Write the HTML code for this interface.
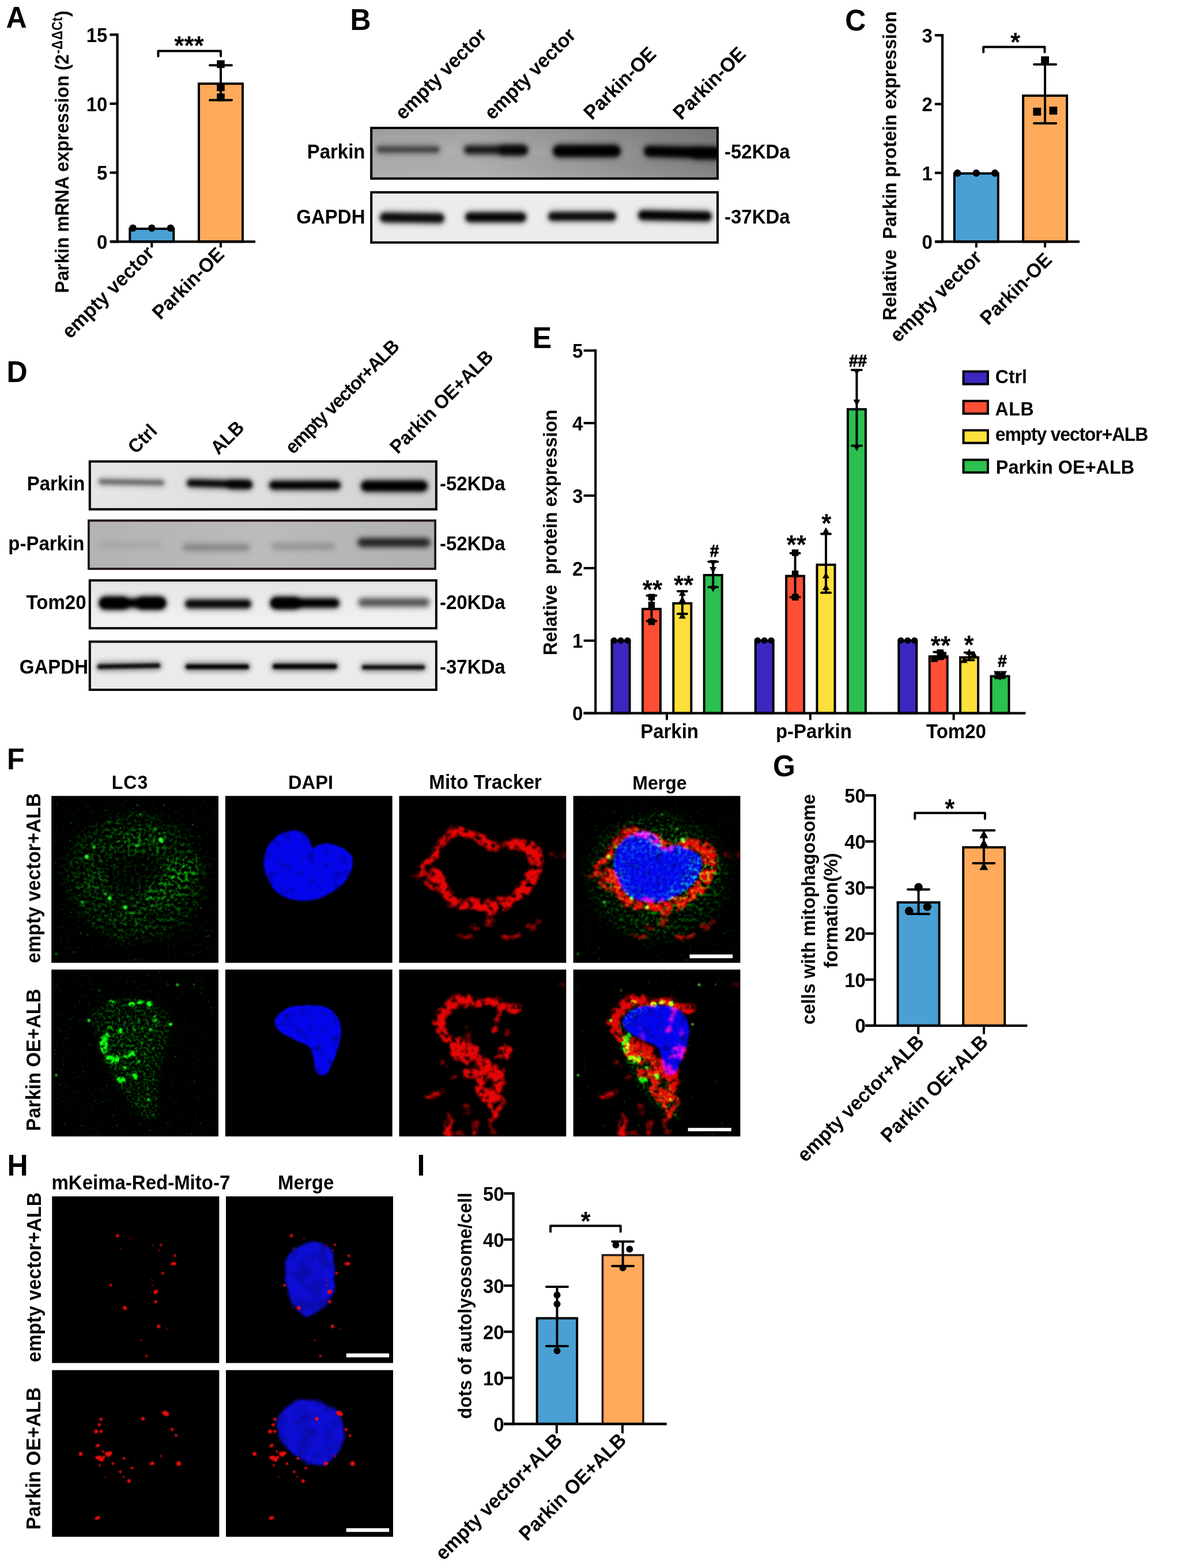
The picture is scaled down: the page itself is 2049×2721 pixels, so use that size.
<!DOCTYPE html>
<html lang="en">
<head>
<meta charset="utf-8">
<title>Figure</title>
<style>
html,body{margin:0;padding:0;background:#fff;}
body{width:2049px;height:2721px;overflow:hidden;}
svg{display:block;font-family:'Liberation Sans', sans-serif;}
</style>
</head>
<body>
<svg width="2049" height="2721" viewBox="0 0 2049 2721">
<rect x="0" y="0" width="2049" height="2721" fill="#ffffff"/>
<text transform="translate(10.5 48.3) scale(0.9615 1)" font-size="52" font-weight="bold" text-anchor="start" fill="#000">A</text>
<text transform="translate(607.5 52.2) scale(0.9615 1)" font-size="52" font-weight="bold" text-anchor="start" fill="#000">B</text>
<text transform="translate(1466.2 52.7) scale(0.9615 1)" font-size="52" font-weight="bold" text-anchor="start" fill="#000">C</text>
<text transform="translate(11.5 662.6) scale(0.9615 1)" font-size="52" font-weight="bold" text-anchor="start" fill="#000">D</text>
<text transform="translate(923.7 604.2) scale(0.9615 1)" font-size="52" font-weight="bold" text-anchor="start" fill="#000">E</text>
<text transform="translate(12 1335.4) scale(0.9615 1)" font-size="52" font-weight="bold" text-anchor="start" fill="#000">F</text>
<text transform="translate(1341 1347) scale(0.9615 1)" font-size="52" font-weight="bold" text-anchor="start" fill="#000">G</text>
<text transform="translate(12.5 2039.6) scale(0.9615 1)" font-size="52" font-weight="bold" text-anchor="start" fill="#000">H</text>
<text transform="translate(723.5 2039.5) scale(0.9615 1)" font-size="52" font-weight="bold" text-anchor="start" fill="#000">I</text>
<rect x="225.3" y="397" width="76" height="22.3" fill="#4aa0d3" stroke="#000" stroke-width="4"/>
<rect x="345" y="145.2" width="76" height="274.1" fill="#ffa95a" stroke="#000" stroke-width="4"/>
<line x1="203.6" y1="58.05" x2="203.6" y2="421.45" stroke="#000" stroke-width="4.3"/>
<line x1="190.45" y1="60.2" x2="203.6" y2="60.2" stroke="#000" stroke-width="4.3"/>
<text transform="translate(186.45 72.8) scale(0.9615 1)" font-size="34.32" font-weight="bold" text-anchor="end" fill="#000">15</text>
<line x1="190.45" y1="179.9" x2="203.6" y2="179.9" stroke="#000" stroke-width="4.3"/>
<text transform="translate(186.45 192.5) scale(0.9615 1)" font-size="34.32" font-weight="bold" text-anchor="end" fill="#000">10</text>
<line x1="190.45" y1="299.6" x2="203.6" y2="299.6" stroke="#000" stroke-width="4.3"/>
<text transform="translate(186.45 312.2) scale(0.9615 1)" font-size="34.32" font-weight="bold" text-anchor="end" fill="#000">5</text>
<line x1="190.45" y1="419.3" x2="203.6" y2="419.3" stroke="#000" stroke-width="4.3"/>
<text transform="translate(186.45 431.9) scale(0.9615 1)" font-size="34.32" font-weight="bold" text-anchor="end" fill="#000">0</text>
<line x1="192.5" y1="419.3" x2="443" y2="419.3" stroke="#000" stroke-width="4.3"/>
<line x1="263.3" y1="419.3" x2="263.3" y2="429.5" stroke="#000" stroke-width="4"/>
<line x1="383" y1="419.3" x2="383" y2="429.5" stroke="#000" stroke-width="4"/>
<circle cx="230.6" cy="395.7" r="6.3" fill="#000"/>
<circle cx="263.3" cy="395.7" r="6.3" fill="#000"/>
<circle cx="296" cy="395.7" r="6.3" fill="#000"/>
<line x1="383" y1="113.2" x2="383" y2="173.7" stroke="#000" stroke-width="4"/>
<line x1="364" y1="113.2" x2="402" y2="113.2" stroke="#000" stroke-width="4" stroke-linecap="round"/>
<line x1="364" y1="173.7" x2="402" y2="173.7" stroke="#000" stroke-width="4" stroke-linecap="round"/>
<rect x="376.25" y="104.55" width="13.5" height="13.5" fill="#000"/>
<rect x="376.25" y="144.55" width="13.5" height="13.5" fill="#000"/>
<rect x="376.25" y="162.25" width="13.5" height="13.5" fill="#000"/>
<polyline points="274.5,97.4 274.5,88.4 383,88.4 383,97.4" fill="none" stroke="#000" stroke-width="4" stroke-linejoin="round" stroke-linecap="round"/>
<text transform="translate(328 95.2) scale(0.9615 1)" font-size="45.76" font-weight="bold" text-anchor="middle" fill="#000">***</text>
<text transform="translate(119.2 94) rotate(-90) scale(0.9615 1)" font-size="32.97" font-weight="bold" text-anchor="end" fill="#000">Parkin mRNA expression (2</text>
<text transform="translate(108.3 93.2) rotate(-90) scale(0.8413 1)" font-size="25.58" font-weight="bold" text-anchor="start" fill="#000">-<tspan font-size="26.5" letter-spacing="0.8">ΔΔ</tspan>Ct</text>
<text transform="translate(119.2 29) rotate(-90) scale(0.9615 1)" font-size="32.97" font-weight="bold" text-anchor="start" fill="#000">)</text>
<text transform="translate(269.5 441.5) rotate(-45) scale(0.9615 1)" font-size="34.94" font-weight="bold" text-anchor="end" fill="#000">empty vector</text>
<text transform="translate(391 443.5) rotate(-45) scale(0.9615 1)" font-size="34.32" font-weight="bold" text-anchor="end" fill="#000">Parkin-OE</text>
<rect x="1655.8" y="301" width="76" height="118.4" fill="#4aa0d3" stroke="#000" stroke-width="4"/>
<rect x="1775.1" y="166" width="76" height="253.4" fill="#ffa95a" stroke="#000" stroke-width="4"/>
<line x1="1635" y1="59.05" x2="1635" y2="421.55" stroke="#000" stroke-width="4.3"/>
<line x1="1621.85" y1="61.2" x2="1635" y2="61.2" stroke="#000" stroke-width="4.3"/>
<text transform="translate(1617.85 73.8) scale(0.9615 1)" font-size="34.32" font-weight="bold" text-anchor="end" fill="#000">3</text>
<line x1="1621.85" y1="180.6" x2="1635" y2="180.6" stroke="#000" stroke-width="4.3"/>
<text transform="translate(1617.85 193.2) scale(0.9615 1)" font-size="34.32" font-weight="bold" text-anchor="end" fill="#000">2</text>
<line x1="1621.85" y1="300" x2="1635" y2="300" stroke="#000" stroke-width="4.3"/>
<text transform="translate(1617.85 312.6) scale(0.9615 1)" font-size="34.32" font-weight="bold" text-anchor="end" fill="#000">1</text>
<line x1="1621.85" y1="419.4" x2="1635" y2="419.4" stroke="#000" stroke-width="4.3"/>
<text transform="translate(1617.85 432) scale(0.9615 1)" font-size="34.32" font-weight="bold" text-anchor="end" fill="#000">0</text>
<line x1="1623.4" y1="419.4" x2="1873" y2="419.4" stroke="#000" stroke-width="4.3"/>
<line x1="1693.8" y1="419.4" x2="1693.8" y2="429.5" stroke="#000" stroke-width="4"/>
<line x1="1813.1" y1="419.4" x2="1813.1" y2="429.5" stroke="#000" stroke-width="4"/>
<circle cx="1661.2" cy="300.4" r="6.3" fill="#000"/>
<circle cx="1693.8" cy="300.4" r="6.3" fill="#000"/>
<circle cx="1726.1" cy="300.4" r="6.3" fill="#000"/>
<line x1="1813.1" y1="111.8" x2="1813.1" y2="214" stroke="#000" stroke-width="4"/>
<line x1="1794.1" y1="111.8" x2="1832.1" y2="111.8" stroke="#000" stroke-width="4" stroke-linecap="round"/>
<line x1="1794.1" y1="214" x2="1832.1" y2="214" stroke="#000" stroke-width="4" stroke-linecap="round"/>
<rect x="1806.2" y="97.7" width="13.8" height="13.8" fill="#000"/>
<rect x="1792.4" y="186.9" width="13.8" height="13.8" fill="#000"/>
<rect x="1820.5" y="185" width="13.8" height="13.8" fill="#000"/>
<polyline points="1706.2,90.5 1706.2,81.5 1812.5,81.5 1812.5,90.5" fill="none" stroke="#000" stroke-width="4" stroke-linejoin="round" stroke-linecap="round"/>
<text transform="translate(1761.5 89) scale(0.9615 1)" font-size="45.76" font-weight="bold" text-anchor="middle" fill="#000">*</text>
<text transform="translate(1555 288) rotate(-90) scale(0.9615 1)" font-size="33.49" font-weight="bold" text-anchor="middle" fill="#000" xml:space="preserve">Relative  Parkin protein expression</text>
<text transform="translate(1705.5 448.5) rotate(-45) scale(0.9615 1)" font-size="34.84" font-weight="bold" text-anchor="end" fill="#000">empty vector</text>
<text transform="translate(1827 453) rotate(-45) scale(0.9615 1)" font-size="34.32" font-weight="bold" text-anchor="end" fill="#000">Parkin-OE</text>
<rect x="1557.6" y="1566" width="72" height="213.8" fill="#4aa0d3" stroke="#000" stroke-width="4"/>
<rect x="1671.2" y="1470.4" width="72" height="309.4" fill="#ffa95a" stroke="#000" stroke-width="4"/>
<line x1="1517.9" y1="1378.15" x2="1517.9" y2="1781.95" stroke="#000" stroke-width="4.3"/>
<line x1="1501.25" y1="1380.3" x2="1517.9" y2="1380.3" stroke="#000" stroke-width="4.3"/>
<text transform="translate(1501.95 1392.9) scale(0.9615 1)" font-size="34.32" font-weight="bold" text-anchor="end" fill="#000">50</text>
<line x1="1501.25" y1="1460.2" x2="1517.9" y2="1460.2" stroke="#000" stroke-width="4.3"/>
<text transform="translate(1501.95 1472.8) scale(0.9615 1)" font-size="34.32" font-weight="bold" text-anchor="end" fill="#000">40</text>
<line x1="1501.25" y1="1540.1" x2="1517.9" y2="1540.1" stroke="#000" stroke-width="4.3"/>
<text transform="translate(1501.95 1552.7) scale(0.9615 1)" font-size="34.32" font-weight="bold" text-anchor="end" fill="#000">30</text>
<line x1="1501.25" y1="1620" x2="1517.9" y2="1620" stroke="#000" stroke-width="4.3"/>
<text transform="translate(1501.95 1632.6) scale(0.9615 1)" font-size="34.32" font-weight="bold" text-anchor="end" fill="#000">20</text>
<line x1="1501.25" y1="1699.9" x2="1517.9" y2="1699.9" stroke="#000" stroke-width="4.3"/>
<text transform="translate(1501.95 1712.5) scale(0.9615 1)" font-size="34.32" font-weight="bold" text-anchor="end" fill="#000">10</text>
<line x1="1501.25" y1="1779.8" x2="1517.9" y2="1779.8" stroke="#000" stroke-width="4.3"/>
<text transform="translate(1501.95 1792.4) scale(0.9615 1)" font-size="34.32" font-weight="bold" text-anchor="end" fill="#000">0</text>
<line x1="1501.4" y1="1779.8" x2="1782.3" y2="1779.8" stroke="#000" stroke-width="4.3"/>
<line x1="1593.2" y1="1779.8" x2="1593.2" y2="1794.6" stroke="#000" stroke-width="4"/>
<line x1="1707" y1="1779.8" x2="1707" y2="1794.6" stroke="#000" stroke-width="4"/>
<line x1="1593.6" y1="1543.4" x2="1593.6" y2="1586" stroke="#000" stroke-width="4"/>
<line x1="1575.1" y1="1543.4" x2="1612.1" y2="1543.4" stroke="#000" stroke-width="4" stroke-linecap="round"/>
<line x1="1575.1" y1="1586" x2="1612.1" y2="1586" stroke="#000" stroke-width="4" stroke-linecap="round"/>
<circle cx="1593.6" cy="1539.6" r="7.3" fill="#000"/>
<circle cx="1577.2" cy="1580.8" r="7.3" fill="#000"/>
<circle cx="1608.9" cy="1573.6" r="7.3" fill="#000"/>
<line x1="1706.9" y1="1441.1" x2="1706.9" y2="1498.1" stroke="#000" stroke-width="4"/>
<line x1="1688.4" y1="1441.1" x2="1725.4" y2="1441.1" stroke="#000" stroke-width="4" stroke-linecap="round"/>
<line x1="1688.4" y1="1498.1" x2="1725.4" y2="1498.1" stroke="#000" stroke-width="4" stroke-linecap="round"/>
<polygon points="1699.4,1454.45 1714.4,1454.45 1706.9,1440.95" fill="#000"/>
<polygon points="1699.4,1469.45 1714.4,1469.45 1706.9,1455.95" fill="#000"/>
<polygon points="1699.4,1509.75 1714.4,1509.75 1706.9,1496.25" fill="#000"/>
<polyline points="1587.3,1420.8 1587.3,1410.8 1708.9,1410.8 1708.9,1420.8" fill="none" stroke="#000" stroke-width="4" stroke-linejoin="round" stroke-linecap="round"/>
<text transform="translate(1647.8 1419) scale(0.9615 1)" font-size="45.76" font-weight="bold" text-anchor="middle" fill="#000">*</text>
<text transform="translate(1413.6 1578) rotate(-90) scale(0.9615 1)" font-size="33.28" font-weight="bold" text-anchor="middle" fill="#000">cells with mitophagosome</text>
<text transform="translate(1453.3 1580) rotate(-90) scale(0.9615 1)" font-size="33.7" font-weight="bold" text-anchor="middle" fill="#000">formation(%)</text>
<text transform="translate(1605.3 1810.3) rotate(-45) scale(0.9615 1)" font-size="34.53" font-weight="bold" text-anchor="end" fill="#000">empty vector+ALB</text>
<text transform="translate(1716.3 1810.3) rotate(-45) scale(0.9615 1)" font-size="34.53" font-weight="bold" text-anchor="end" fill="#000">Parkin OE+ALB</text>
<rect x="931.65" y="2287.6" width="69.5" height="183.4" fill="#4aa0d3" stroke="#000" stroke-width="4"/>
<rect x="1045.45" y="2178" width="70.5" height="293" fill="#ffa95a" stroke="#231815" stroke-width="3.5"/>
<line x1="890.6" y1="2068.85" x2="890.6" y2="2473.15" stroke="#000" stroke-width="4.3"/>
<line x1="873.95" y1="2071" x2="890.6" y2="2071" stroke="#000" stroke-width="4.3"/>
<text transform="translate(874.65 2083.6) scale(0.9615 1)" font-size="34.32" font-weight="bold" text-anchor="end" fill="#000">50</text>
<line x1="873.95" y1="2151" x2="890.6" y2="2151" stroke="#000" stroke-width="4.3"/>
<text transform="translate(874.65 2163.6) scale(0.9615 1)" font-size="34.32" font-weight="bold" text-anchor="end" fill="#000">40</text>
<line x1="873.95" y1="2231" x2="890.6" y2="2231" stroke="#000" stroke-width="4.3"/>
<text transform="translate(874.65 2243.6) scale(0.9615 1)" font-size="34.32" font-weight="bold" text-anchor="end" fill="#000">30</text>
<line x1="873.95" y1="2311" x2="890.6" y2="2311" stroke="#000" stroke-width="4.3"/>
<text transform="translate(874.65 2323.6) scale(0.9615 1)" font-size="34.32" font-weight="bold" text-anchor="end" fill="#000">20</text>
<line x1="873.95" y1="2391" x2="890.6" y2="2391" stroke="#000" stroke-width="4.3"/>
<text transform="translate(874.65 2403.6) scale(0.9615 1)" font-size="34.32" font-weight="bold" text-anchor="end" fill="#000">10</text>
<line x1="873.95" y1="2471" x2="890.6" y2="2471" stroke="#000" stroke-width="4.3"/>
<text transform="translate(874.65 2483.6) scale(0.9615 1)" font-size="34.32" font-weight="bold" text-anchor="end" fill="#000">0</text>
<line x1="874" y1="2471" x2="1156.8" y2="2471" stroke="#000" stroke-width="4.3"/>
<line x1="965.8" y1="2471" x2="965.8" y2="2487.4" stroke="#000" stroke-width="4"/>
<line x1="1080" y1="2471" x2="1080" y2="2487.4" stroke="#000" stroke-width="4"/>
<line x1="966.5" y1="2233.1" x2="966.5" y2="2336" stroke="#000" stroke-width="4"/>
<line x1="948" y1="2233.1" x2="985" y2="2233.1" stroke="#000" stroke-width="4" stroke-linecap="round"/>
<line x1="948" y1="2336" x2="985" y2="2336" stroke="#000" stroke-width="4" stroke-linecap="round"/>
<circle cx="966.5" cy="2247.2" r="6" fill="#000"/>
<circle cx="966.5" cy="2263.1" r="6" fill="#000"/>
<circle cx="966.5" cy="2344.1" r="6" fill="#000"/>
<line x1="1080.6" y1="2154.5" x2="1080.6" y2="2197.1" stroke="#000" stroke-width="4"/>
<line x1="1062.1" y1="2154.5" x2="1099.1" y2="2154.5" stroke="#000" stroke-width="4" stroke-linecap="round"/>
<line x1="1062.1" y1="2197.1" x2="1099.1" y2="2197.1" stroke="#000" stroke-width="4" stroke-linecap="round"/>
<circle cx="1068.5" cy="2160.5" r="6" fill="#000"/>
<circle cx="1092.3" cy="2167.7" r="6" fill="#000"/>
<circle cx="1080.6" cy="2200.1" r="6" fill="#000"/>
<polyline points="955.1,2137.2 955.1,2127.2 1076.7,2127.2 1076.7,2137.2" fill="none" stroke="#000" stroke-width="4" stroke-linejoin="round" stroke-linecap="round"/>
<text transform="translate(1016 2135) scale(0.9615 1)" font-size="45.76" font-weight="bold" text-anchor="middle" fill="#000">*</text>
<text transform="translate(817.6 2266) rotate(-90) scale(0.9615 1)" font-size="33.28" font-weight="bold" text-anchor="middle" fill="#000">dots of autolysosome/cell</text>
<text transform="translate(977.5 2501.3) rotate(-45) scale(0.9615 1)" font-size="34.53" font-weight="bold" text-anchor="end" fill="#000">empty vector+ALB</text>
<text transform="translate(1088.5 2501.3) rotate(-45) scale(0.9615 1)" font-size="34.53" font-weight="bold" text-anchor="end" fill="#000">Parkin OE+ALB</text>
<rect x="1061.5" y="1111.75" width="31" height="125.85" fill="#3b28bf" stroke="#000" stroke-width="4"/>
<rect x="1114.9" y="1056.8" width="31" height="180.8" fill="#ff4e36" stroke="#000" stroke-width="4"/>
<rect x="1168.3" y="1047" width="31" height="190.6" fill="#ffe03b" stroke="#000" stroke-width="4"/>
<rect x="1221.7" y="998" width="31" height="239.6" fill="#2bc04f" stroke="#000" stroke-width="4"/>
<rect x="1310.7" y="1111.75" width="31" height="125.85" fill="#3b28bf" stroke="#000" stroke-width="4"/>
<rect x="1364.1" y="999.6" width="31" height="238" fill="#ff4e36" stroke="#000" stroke-width="4"/>
<rect x="1417.5" y="980" width="31" height="257.6" fill="#ffe03b" stroke="#000" stroke-width="4"/>
<rect x="1470.9" y="710.2" width="31" height="527.4" fill="#2bc04f" stroke="#000" stroke-width="4"/>
<rect x="1559.3" y="1111.75" width="31" height="125.85" fill="#3b28bf" stroke="#000" stroke-width="4"/>
<rect x="1612.7" y="1139.2" width="31" height="98.4" fill="#ff4e36" stroke="#000" stroke-width="4"/>
<rect x="1666.1" y="1140.8" width="31" height="96.8" fill="#ffe03b" stroke="#000" stroke-width="4"/>
<rect x="1719.5" y="1173.5" width="31" height="64.1" fill="#2bc04f" stroke="#000" stroke-width="4"/>
<line x1="1033.2" y1="606.3" x2="1033.2" y2="1239.65" stroke="#000" stroke-width="4.1"/>
<line x1="1012.65" y1="608.35" x2="1033.2" y2="608.35" stroke="#000" stroke-width="4.1"/>
<text transform="translate(1011.25 620.95) scale(0.9615 1)" font-size="34.32" font-weight="bold" text-anchor="end" fill="#000">5</text>
<line x1="1012.65" y1="734.2" x2="1033.2" y2="734.2" stroke="#000" stroke-width="4.1"/>
<text transform="translate(1011.25 746.8) scale(0.9615 1)" font-size="34.32" font-weight="bold" text-anchor="end" fill="#000">4</text>
<line x1="1012.65" y1="860.05" x2="1033.2" y2="860.05" stroke="#000" stroke-width="4.1"/>
<text transform="translate(1011.25 872.65) scale(0.9615 1)" font-size="34.32" font-weight="bold" text-anchor="end" fill="#000">3</text>
<line x1="1012.65" y1="985.9" x2="1033.2" y2="985.9" stroke="#000" stroke-width="4.1"/>
<text transform="translate(1011.25 998.5) scale(0.9615 1)" font-size="34.32" font-weight="bold" text-anchor="end" fill="#000">2</text>
<line x1="1012.65" y1="1111.75" x2="1033.2" y2="1111.75" stroke="#000" stroke-width="4.1"/>
<text transform="translate(1011.25 1124.35) scale(0.9615 1)" font-size="34.32" font-weight="bold" text-anchor="end" fill="#000">1</text>
<line x1="1012.65" y1="1237.6" x2="1033.2" y2="1237.6" stroke="#000" stroke-width="4.1"/>
<text transform="translate(1011.25 1250.2) scale(0.9615 1)" font-size="34.32" font-weight="bold" text-anchor="end" fill="#000">0</text>
<line x1="1012.5" y1="1237.6" x2="1779.4" y2="1237.6" stroke="#000" stroke-width="4.1"/>
<line x1="1157" y1="1237.6" x2="1157" y2="1249.5" stroke="#000" stroke-width="4"/>
<line x1="1405.8" y1="1237.6" x2="1405.8" y2="1249.5" stroke="#000" stroke-width="4"/>
<line x1="1654.6" y1="1237.6" x2="1654.6" y2="1249.5" stroke="#000" stroke-width="4"/>
<circle cx="1065.2" cy="1111.55" r="5.6" fill="#000"/>
<circle cx="1077" cy="1111.55" r="5.6" fill="#000"/>
<circle cx="1088.8" cy="1111.55" r="5.6" fill="#000"/>
<circle cx="1314.4" cy="1111.55" r="5.6" fill="#000"/>
<circle cx="1326.2" cy="1111.55" r="5.6" fill="#000"/>
<circle cx="1338" cy="1111.55" r="5.6" fill="#000"/>
<circle cx="1563" cy="1111.55" r="5.6" fill="#000"/>
<circle cx="1574.8" cy="1111.55" r="5.6" fill="#000"/>
<circle cx="1586.6" cy="1111.55" r="5.6" fill="#000"/>
<line x1="1130.4" y1="1033.6" x2="1130.4" y2="1077.7" stroke="#000" stroke-width="4"/>
<line x1="1122.4" y1="1033.6" x2="1138.4" y2="1033.6" stroke="#000" stroke-width="4" stroke-linecap="round"/>
<line x1="1122.4" y1="1077.7" x2="1138.4" y2="1077.7" stroke="#000" stroke-width="4" stroke-linecap="round"/>
<rect x="1124.65" y="1030.55" width="11.5" height="11.5" fill="#000"/>
<rect x="1124.65" y="1044.25" width="11.5" height="11.5" fill="#000"/>
<rect x="1124.65" y="1073.25" width="11.5" height="11.5" fill="#000"/>
<line x1="1183.8" y1="1026" x2="1183.8" y2="1065.3" stroke="#000" stroke-width="4"/>
<line x1="1175.8" y1="1026" x2="1191.8" y2="1026" stroke="#000" stroke-width="4" stroke-linecap="round"/>
<line x1="1175.8" y1="1065.3" x2="1191.8" y2="1065.3" stroke="#000" stroke-width="4" stroke-linecap="round"/>
<polygon points="1177.8,1033.9 1189.8,1033.9 1183.8,1023.1" fill="#000"/>
<polygon points="1177.8,1045.4 1189.8,1045.4 1183.8,1034.6" fill="#000"/>
<polygon points="1177.8,1073.4 1189.8,1073.4 1183.8,1062.6" fill="#000"/>
<line x1="1237.2" y1="974.7" x2="1237.2" y2="1019" stroke="#000" stroke-width="4"/>
<line x1="1229.2" y1="974.7" x2="1245.2" y2="974.7" stroke="#000" stroke-width="4" stroke-linecap="round"/>
<line x1="1229.2" y1="1019" x2="1245.2" y2="1019" stroke="#000" stroke-width="4" stroke-linecap="round"/>
<polygon points="1231.2,972.1 1243.2,972.1 1237.2,982.9" fill="#000"/>
<polygon points="1231.2,984 1243.2,984 1237.2,994.8" fill="#000"/>
<polygon points="1231.2,1016.6 1243.2,1016.6 1237.2,1027.4" fill="#000"/>
<line x1="1379.6" y1="959.9" x2="1379.6" y2="1036.3" stroke="#000" stroke-width="4"/>
<line x1="1371.6" y1="959.9" x2="1387.6" y2="959.9" stroke="#000" stroke-width="4" stroke-linecap="round"/>
<line x1="1371.6" y1="1036.3" x2="1387.6" y2="1036.3" stroke="#000" stroke-width="4" stroke-linecap="round"/>
<rect x="1373.85" y="953.45" width="11.5" height="11.5" fill="#000"/>
<rect x="1373.85" y="990.25" width="11.5" height="11.5" fill="#000"/>
<rect x="1373.85" y="1030.55" width="11.5" height="11.5" fill="#000"/>
<line x1="1433" y1="926.5" x2="1433" y2="1028.5" stroke="#000" stroke-width="4"/>
<line x1="1425" y1="926.5" x2="1441" y2="926.5" stroke="#000" stroke-width="4" stroke-linecap="round"/>
<line x1="1425" y1="1028.5" x2="1441" y2="1028.5" stroke="#000" stroke-width="4" stroke-linecap="round"/>
<polygon points="1427,925.9 1439,925.9 1433,915.1" fill="#000"/>
<polygon points="1427,1003.4 1439,1003.4 1433,992.6" fill="#000"/>
<polygon points="1427,1023.9 1439,1023.9 1433,1013.1" fill="#000"/>
<line x1="1486.4" y1="641.9" x2="1486.4" y2="773.6" stroke="#000" stroke-width="4"/>
<line x1="1477.9" y1="641.9" x2="1494.9" y2="641.9" stroke="#000" stroke-width="4" stroke-linecap="round"/>
<line x1="1477.9" y1="773.6" x2="1494.9" y2="773.6" stroke="#000" stroke-width="4" stroke-linecap="round"/>
<polygon points="1480.4,640.1 1492.4,640.1 1486.4,650.9" fill="#000"/>
<polygon points="1480.4,693.6 1492.4,693.6 1486.4,704.4" fill="#000"/>
<polygon points="1480.4,772.1 1492.4,772.1 1486.4,782.9" fill="#000"/>
<line x1="1628.2" y1="1131.5" x2="1628.2" y2="1143.5" stroke="#000" stroke-width="4"/>
<line x1="1620.2" y1="1131.5" x2="1636.2" y2="1131.5" stroke="#000" stroke-width="4" stroke-linecap="round"/>
<line x1="1620.2" y1="1143.5" x2="1636.2" y2="1143.5" stroke="#000" stroke-width="4" stroke-linecap="round"/>
<rect x="1625.45" y="1126.75" width="11.5" height="11.5" fill="#000"/>
<rect x="1615.45" y="1137.25" width="11.5" height="11.5" fill="#000"/>
<rect x="1630.45" y="1131.25" width="11.5" height="11.5" fill="#000"/>
<line x1="1681.6" y1="1132.5" x2="1681.6" y2="1145.5" stroke="#000" stroke-width="4"/>
<line x1="1673.6" y1="1132.5" x2="1689.6" y2="1132.5" stroke="#000" stroke-width="4" stroke-linecap="round"/>
<line x1="1673.6" y1="1145.5" x2="1689.6" y2="1145.5" stroke="#000" stroke-width="4" stroke-linecap="round"/>
<polygon points="1675.6,1136.4 1687.6,1136.4 1681.6,1125.6" fill="#000"/>
<polygon points="1666.6,1150.4 1678.6,1150.4 1672.6,1139.6" fill="#000"/>
<polygon points="1683.6,1140.4 1695.6,1140.4 1689.6,1129.6" fill="#000"/>
<line x1="1735" y1="1169" x2="1735" y2="1176.5" stroke="#000" stroke-width="4"/>
<line x1="1727" y1="1169" x2="1743" y2="1169" stroke="#000" stroke-width="4" stroke-linecap="round"/>
<line x1="1727" y1="1176.5" x2="1743" y2="1176.5" stroke="#000" stroke-width="4" stroke-linecap="round"/>
<polygon points="1724,1164.6 1736,1164.6 1730,1175.4" fill="#000"/>
<polygon points="1735,1164.6 1747,1164.6 1741,1175.4" fill="#000"/>
<polygon points="1729,1170.6 1741,1170.6 1735,1181.4" fill="#000"/>
<text transform="translate(1131.9 1038.5) scale(0.9615 1)" font-size="45.76" font-weight="bold" text-anchor="middle" fill="#000">**</text>
<text transform="translate(1186 1030.5) scale(0.9615 1)" font-size="45.76" font-weight="bold" text-anchor="middle" fill="#000">**</text>
<text transform="translate(1239.6 965.9) scale(0.9615 1)" font-size="29.12" font-weight="bold" text-anchor="middle" fill="#000" stroke="#000" stroke-width="0.9">#</text>
<text transform="translate(1381.7 960.5) scale(0.9615 1)" font-size="45.76" font-weight="bold" text-anchor="middle" fill="#000">**</text>
<text transform="translate(1433.7 923.5) scale(0.9615 1)" font-size="45.76" font-weight="bold" text-anchor="middle" fill="#000">*</text>
<text transform="translate(1488.5 635.6) scale(0.9615 1)" font-size="29.12" font-weight="bold" text-anchor="middle" fill="#000" stroke="#000" stroke-width="0.9">##</text>
<text transform="translate(1631.9 1136) scale(0.9615 1)" font-size="45.76" font-weight="bold" text-anchor="middle" fill="#000">**</text>
<text transform="translate(1681.1 1134.5) scale(0.9615 1)" font-size="45.76" font-weight="bold" text-anchor="middle" fill="#000">*</text>
<text transform="translate(1739.1 1157.4) scale(0.9615 1)" font-size="29.12" font-weight="bold" text-anchor="middle" fill="#000" stroke="#000" stroke-width="0.9">#</text>
<text transform="translate(1161.6 1280.5) scale(0.9615 1)" font-size="34.32" font-weight="bold" text-anchor="middle" fill="#000">Parkin</text>
<text transform="translate(1411.9 1280.5) scale(0.9615 1)" font-size="34.32" font-weight="bold" text-anchor="middle" fill="#000">p-Parkin</text>
<text transform="translate(1658.9 1280.5) scale(0.9615 1)" font-size="34.32" font-weight="bold" text-anchor="middle" fill="#000">Tom20</text>
<text transform="translate(966.4 924) rotate(-90) scale(0.9615 1)" font-size="33.28" font-weight="bold" text-anchor="middle" fill="#000" xml:space="preserve">Relative  protein expression</text>
<rect x="1671.5" y="644.6" width="42.4" height="22" fill="#3b28bf" stroke="#000" stroke-width="4"/>
<rect x="1671.5" y="695.8" width="42.4" height="22" fill="#ff4e36" stroke="#000" stroke-width="4"/>
<rect x="1671.5" y="746.7" width="42.4" height="22" fill="#ffe03b" stroke="#000" stroke-width="4"/>
<rect x="1671.5" y="797.9" width="42.4" height="22" fill="#2bc04f" stroke="#000" stroke-width="4"/>
<text transform="translate(1726.8 665.2) scale(0.9615 1)" font-size="33.28" font-weight="bold" text-anchor="start" fill="#000">Ctrl</text>
<text transform="translate(1726.6 720.5) scale(0.9615 1)" font-size="33.28" font-weight="bold" text-anchor="start" fill="#000" letter-spacing="0.7">ALB</text>
<text transform="translate(1726.8 765) scale(0.9615 1)" font-size="33.28" font-weight="bold" text-anchor="start" fill="#000" letter-spacing="-1.25">empty vector+ALB</text>
<text transform="translate(1727.8 821.5) scale(0.9615 1)" font-size="33.7" font-weight="bold" text-anchor="start" fill="#000">Parkin OE+ALB</text>
<defs>
<filter id="b2" x="-20%" y="-150%" width="140%" height="400%"><feGaussianBlur stdDeviation="2.2"/></filter>
<filter id="b3" x="-20%" y="-150%" width="140%" height="400%"><feGaussianBlur stdDeviation="3"/></filter>
<filter id="b4" x="-20%" y="-150%" width="140%" height="400%"><feGaussianBlur stdDeviation="4"/></filter>
<filter id="b6" x="-30%" y="-200%" width="160%" height="500%"><feGaussianBlur stdDeviation="5"/></filter>
<linearGradient id="gB1" x1="0" y1="0" x2="1" y2="0"><stop offset="0" stop-color="#acacac"/><stop offset="0.3" stop-color="#b0b0b0"/><stop offset="0.6" stop-color="#9c9c9c"/><stop offset="1" stop-color="#7e7e7e"/></linearGradient>
<linearGradient id="gB1v" x1="0" y1="0" x2="0" y2="1"><stop offset="0" stop-color="#000" stop-opacity="0.10"/><stop offset="0.5" stop-color="#000" stop-opacity="0"/><stop offset="1" stop-color="#fff" stop-opacity="0.10"/></linearGradient>
<linearGradient id="gD1" x1="0" y1="0" x2="1" y2="0"><stop offset="0" stop-color="#e6e6e6"/><stop offset="0.5" stop-color="#dedede"/><stop offset="1" stop-color="#cfcfcf"/></linearGradient>
<linearGradient id="gD2" x1="0" y1="0" x2="1" y2="0"><stop offset="0" stop-color="#b3b3b3"/><stop offset="0.5" stop-color="#bbbbbb"/><stop offset="1" stop-color="#b0b0b0"/></linearGradient>
<linearGradient id="gD3" x1="0" y1="0" x2="0" y2="1"><stop offset="0" stop-color="#e4e4e4"/><stop offset="0.6" stop-color="#ededed"/><stop offset="1" stop-color="#f4f4f4"/></linearGradient>
</defs>
<clipPath id="cl1"><rect x="642.2" y="220" width="604.8" height="91.8"/></clipPath>
<rect x="642.2" y="220" width="604.8" height="91.8" fill="url(#gB1)"/>
<rect x="642.2" y="220" width="604.8" height="91.8" fill="url(#gB1v)"/>
<g clip-path="url(#cl1)">
<rect x="651" y="250" width="114" height="19" rx="9.5" fill="#2a2a2a" opacity="0.29" filter="url(#b6)"/>
<rect x="654" y="254.5" width="108" height="10" rx="5" fill="#2a2a2a" opacity="0.7" filter="url(#b3)"/>
<rect x="803" y="249" width="114" height="22" rx="11" fill="#101010" opacity="0.36" filter="url(#b6)"/>
<rect x="806" y="253.5" width="108" height="13" rx="6.5" fill="#101010" opacity="0.85" filter="url(#b3)"/>
<rect x="863" y="249" width="54" height="24" rx="12" fill="#000" opacity="0.25" filter="url(#b6)"/>
<rect x="866" y="253.5" width="48" height="15" rx="7.5" fill="#000" opacity="0.6" filter="url(#b3)"/>
<rect x="957" y="248" width="122" height="28" rx="14" fill="#000" opacity="0.42" filter="url(#b6)"/>
<rect x="960" y="252.5" width="116" height="19" rx="9.5" fill="#000" opacity="1" filter="url(#b3)"/>
<rect x="1115" y="251" width="138" height="26" rx="13" fill="#000" opacity="0.42" filter="url(#b6)" transform="rotate(1.5 1184 264)"/>
<rect x="1118" y="255.5" width="132" height="17" rx="8.5" fill="#000" opacity="1" filter="url(#b3)" transform="rotate(1.5 1184 264)"/>
<rect x="1197" y="253.5" width="56" height="26" rx="13" fill="#000" opacity="0.21" filter="url(#b6)"/>
<rect x="1200" y="258" width="50" height="17" rx="8.5" fill="#000" opacity="0.5" filter="url(#b3)"/>
</g>
<rect x="644.2" y="222" width="600.8" height="87.8" fill="none" stroke="#000" stroke-width="4"/>
<clipPath id="cl2"><rect x="642.2" y="331.7" width="604.8" height="91.1"/></clipPath>
<rect x="642.2" y="331.7" width="604.8" height="91.1" fill="#ececec"/>
<g clip-path="url(#cl2)">
<rect x="657" y="366" width="116" height="24" rx="12" fill="#000" opacity="0.38" filter="url(#b6)" transform="rotate(0.8 715 378)"/>
<rect x="660" y="370.5" width="110" height="15" rx="7.5" fill="#000" opacity="0.9" filter="url(#b3)" transform="rotate(0.8 715 378)"/>
<rect x="805" y="365" width="110" height="24" rx="12" fill="#000" opacity="0.4" filter="url(#b6)"/>
<rect x="808" y="369.5" width="104" height="15" rx="7.5" fill="#000" opacity="0.95" filter="url(#b3)"/>
<rect x="949" y="364.25" width="122" height="22.5" rx="11.25" fill="#000" opacity="0.39" filter="url(#b6)"/>
<rect x="952" y="368.75" width="116" height="13.5" rx="6.75" fill="#000" opacity="0.92" filter="url(#b3)"/>
<rect x="1105" y="362.5" width="132" height="24" rx="12" fill="#000" opacity="0.41" filter="url(#b6)" transform="rotate(1 1171 374.5)"/>
<rect x="1108" y="367" width="126" height="15" rx="7.5" fill="#000" opacity="0.97" filter="url(#b3)" transform="rotate(1 1171 374.5)"/>
</g>
<rect x="644.2" y="333.7" width="600.8" height="87.1" fill="none" stroke="#000" stroke-width="4"/>
<text transform="translate(633.5 274.6) scale(0.9615 1)" font-size="34.32" font-weight="bold" text-anchor="end" fill="#000">Parkin</text>
<text transform="translate(633.5 387.5) scale(0.9615 1)" font-size="34.32" font-weight="bold" text-anchor="end" fill="#000">GAPDH</text>
<text transform="translate(1257 274.6) scale(0.9615 1)" font-size="34.32" font-weight="bold" text-anchor="start" fill="#000">-52KDa</text>
<text transform="translate(1257 387.5) scale(0.9615 1)" font-size="34.32" font-weight="bold" text-anchor="start" fill="#000">-37KDa</text>
<text transform="translate(699.8 209.5) rotate(-45) scale(0.9615 1)" font-size="34.63" font-weight="bold" text-anchor="start" fill="#000">empty vector</text>
<text transform="translate(854.4 209.5) rotate(-45) scale(0.9615 1)" font-size="34.63" font-weight="bold" text-anchor="start" fill="#000">empty vector</text>
<text transform="translate(1026.7 209.5) rotate(-45) scale(0.9615 1)" font-size="34.63" font-weight="bold" text-anchor="start" fill="#000">Parkin-OE</text>
<text transform="translate(1182.1 209.5) rotate(-45) scale(0.9615 1)" font-size="34.63" font-weight="bold" text-anchor="start" fill="#000">Parkin-OE</text>
<clipPath id="cl3"><rect x="153.8" y="798.8" width="605.1" height="87"/></clipPath>
<rect x="153.8" y="798.8" width="605.1" height="87" fill="url(#gD1)"/>
<g clip-path="url(#cl3)">
<rect x="169" y="828.8" width="118" height="16" rx="8" fill="#202020" opacity="0.25" filter="url(#b6)" transform="rotate(1 228 836.8)"/>
<rect x="172" y="833.3" width="112" height="7" rx="3.5" fill="#202020" opacity="0.6" filter="url(#b3)" transform="rotate(1 228 836.8)"/>
<rect x="322" y="829.5" width="117" height="20" rx="10" fill="#000" opacity="0.4" filter="url(#b6)" transform="rotate(1.5 380.5 839.5)"/>
<rect x="325" y="834" width="111" height="11" rx="5.5" fill="#000" opacity="0.95" filter="url(#b3)" transform="rotate(1.5 380.5 839.5)"/>
<rect x="392" y="830.5" width="47" height="21" rx="10.5" fill="#000" opacity="0.25" filter="url(#b6)"/>
<rect x="395" y="835" width="41" height="12" rx="6" fill="#000" opacity="0.6" filter="url(#b3)"/>
<rect x="465" y="831" width="128" height="22" rx="11" fill="#000" opacity="0.42" filter="url(#b6)"/>
<rect x="468" y="835.5" width="122" height="13" rx="6.5" fill="#000" opacity="1" filter="url(#b3)"/>
<rect x="624" y="830.5" width="120" height="26" rx="13" fill="#000" opacity="0.42" filter="url(#b6)"/>
<rect x="627" y="835" width="114" height="17" rx="8.5" fill="#000" opacity="1" filter="url(#b3)"/>
</g>
<rect x="155.8" y="800.8" width="601.1" height="83" fill="none" stroke="#000" stroke-width="4"/>
<clipPath id="cl4"><rect x="152" y="901.5" width="605" height="87.5"/></clipPath>
<rect x="152" y="901.5" width="605" height="87.5" fill="url(#gD2)"/>
<g clip-path="url(#cl4)">
<rect x="167" y="937.5" width="116" height="17" rx="8.5" fill="#666" opacity="0.05" filter="url(#b6)"/>
<rect x="170" y="942" width="110" height="8" rx="4" fill="#666" opacity="0.13" filter="url(#b4)"/>
<rect x="315" y="940.8" width="120" height="18" rx="9" fill="#333" opacity="0.13" filter="url(#b6)"/>
<rect x="318" y="945.3" width="114" height="9" rx="4.5" fill="#333" opacity="0.3" filter="url(#b4)"/>
<rect x="469" y="939" width="114" height="18" rx="9" fill="#444" opacity="0.1" filter="url(#b6)"/>
<rect x="472" y="943.5" width="108" height="9" rx="4.5" fill="#444" opacity="0.24" filter="url(#b4)"/>
<rect x="619" y="931.5" width="129" height="20" rx="10" fill="#000" opacity="0.34" filter="url(#b6)"/>
<rect x="622" y="936" width="123" height="11" rx="5.5" fill="#000" opacity="0.8" filter="url(#b4)"/>
</g>
<rect x="153.9" y="903.4" width="601.2" height="83.7" fill="none" stroke="#231815" stroke-width="3.8"/>
<clipPath id="cl5"><rect x="153.8" y="1005.2" width="605.1" height="87"/></clipPath>
<rect x="153.8" y="1005.2" width="605.1" height="87" fill="url(#gD3)"/>
<g clip-path="url(#cl5)">
<rect x="171" y="1035.1" width="118" height="23" rx="11.5" fill="#000" opacity="0.42" filter="url(#b6)"/>
<rect x="174" y="1039.6" width="112" height="14" rx="7" fill="#000" opacity="1" filter="url(#b3)"/>
<rect x="171" y="1033.1" width="54" height="27" rx="13.5" fill="#000" opacity="0.42" filter="url(#b6)"/>
<rect x="174" y="1037.6" width="48" height="18" rx="9" fill="#000" opacity="1" filter="url(#b3)"/>
<rect x="235" y="1033.1" width="54" height="27" rx="13.5" fill="#000" opacity="0.42" filter="url(#b6)"/>
<rect x="238" y="1037.6" width="48" height="18" rx="9" fill="#000" opacity="1" filter="url(#b3)"/>
<rect x="319" y="1037" width="119" height="22" rx="11" fill="#000" opacity="0.4" filter="url(#b6)"/>
<rect x="322" y="1041.5" width="113" height="13" rx="6.5" fill="#000" opacity="0.95" filter="url(#b3)"/>
<rect x="468" y="1035.1" width="123" height="23" rx="11.5" fill="#000" opacity="0.42" filter="url(#b6)"/>
<rect x="471" y="1039.6" width="117" height="14" rx="7" fill="#000" opacity="1" filter="url(#b3)"/>
<rect x="468" y="1033.6" width="55" height="26" rx="13" fill="#000" opacity="0.38" filter="url(#b6)"/>
<rect x="471" y="1038.1" width="49" height="17" rx="8.5" fill="#000" opacity="0.9" filter="url(#b3)"/>
<rect x="620" y="1035.5" width="127" height="20" rx="10" fill="#222" opacity="0.29" filter="url(#b6)"/>
<rect x="623" y="1040" width="121" height="11" rx="5.5" fill="#222" opacity="0.7" filter="url(#b4)"/>
</g>
<rect x="155.8" y="1007.2" width="601.1" height="83" fill="none" stroke="#000" stroke-width="4"/>
<clipPath id="cl6"><rect x="153.8" y="1111.5" width="605.1" height="87.5"/></clipPath>
<rect x="153.8" y="1111.5" width="605.1" height="87.5" fill="#ebebeb"/>
<g clip-path="url(#cl6)">
<rect x="166" y="1147.75" width="115" height="16.5" rx="8.25" fill="#000" opacity="0.4" filter="url(#b6)" transform="rotate(-1 223.5 1156)"/>
<rect x="169" y="1152.25" width="109" height="7.5" rx="3.75" fill="#000" opacity="0.95" filter="url(#b2)" transform="rotate(-1 223.5 1156)"/>
<rect x="319" y="1148.5" width="116" height="17" rx="8.5" fill="#000" opacity="0.42" filter="url(#b6)"/>
<rect x="322" y="1153" width="110" height="8" rx="4" fill="#000" opacity="1" filter="url(#b2)"/>
<rect x="470" y="1147.75" width="118" height="17.5" rx="8.75" fill="#000" opacity="0.42" filter="url(#b6)"/>
<rect x="473" y="1152.25" width="112" height="8.5" rx="4.25" fill="#000" opacity="1" filter="url(#b2)"/>
<rect x="625" y="1150" width="115" height="16" rx="8" fill="#000" opacity="0.4" filter="url(#b6)"/>
<rect x="628" y="1154.5" width="109" height="7" rx="3.5" fill="#000" opacity="0.95" filter="url(#b2)"/>
</g>
<rect x="155.8" y="1113.5" width="601.1" height="83.5" fill="none" stroke="#000" stroke-width="4"/>
<text transform="translate(147.5 851) scale(0.9615 1)" font-size="34.32" font-weight="bold" text-anchor="end" fill="#000">Parkin</text>
<text transform="translate(146.3 954.5) scale(0.9615 1)" font-size="34.32" font-weight="bold" text-anchor="end" fill="#000">p-Parkin</text>
<text transform="translate(149.5 1056.8) scale(0.9615 1)" font-size="34.32" font-weight="bold" text-anchor="end" fill="#000">Tom20</text>
<text transform="translate(153 1169) scale(0.9615 1)" font-size="34.32" font-weight="bold" text-anchor="end" fill="#000">GAPDH</text>
<text transform="translate(763 851) scale(0.9615 1)" font-size="34.32" font-weight="bold" text-anchor="start" fill="#000">-52KDa</text>
<text transform="translate(763 954.5) scale(0.9615 1)" font-size="34.32" font-weight="bold" text-anchor="start" fill="#000">-52KDa</text>
<text transform="translate(763 1056.8) scale(0.9615 1)" font-size="34.32" font-weight="bold" text-anchor="start" fill="#000">-20KDa</text>
<text transform="translate(763 1169) scale(0.9615 1)" font-size="34.32" font-weight="bold" text-anchor="start" fill="#000">-37KDa</text>
<text transform="translate(235.5 789) rotate(-45) scale(0.9615 1)" font-size="33.28" font-weight="bold" text-anchor="start" fill="#000">Ctrl</text>
<text transform="translate(379 790.5) rotate(-45) scale(0.9615 1)" font-size="33.28" font-weight="bold" text-anchor="start" fill="#000">ALB</text>
<text transform="translate(508.4 789.4) rotate(-45) scale(0.9615 1)" font-size="33.28" font-weight="bold" text-anchor="start" fill="#000" letter-spacing="-1.35">empty vector+ALB</text>
<text transform="translate(690 789) rotate(-45) scale(0.9615 1)" font-size="33.28" font-weight="bold" text-anchor="start" fill="#000">Parkin OE+ALB</text>
<rect x="89.2" y="1381.2" width="289.8" height="289.6" fill="#000"/>
<rect x="89.2" y="1682.5" width="289.8" height="289.6" fill="#000"/>
<rect x="390.9" y="1381.2" width="289.8" height="289.6" fill="#000"/>
<rect x="390.9" y="1682.5" width="289.8" height="289.6" fill="#000"/>
<rect x="692.5" y="1381.2" width="289.8" height="289.6" fill="#000"/>
<rect x="692.5" y="1682.5" width="289.8" height="289.6" fill="#000"/>
<rect x="994.6" y="1381.2" width="289.8" height="289.6" fill="#000"/>
<rect x="994.6" y="1682.5" width="289.8" height="289.6" fill="#000"/>
<rect x="90.3" y="2076.1" width="290" height="289.2" fill="#000"/>
<rect x="90.3" y="2377.6" width="290" height="289.2" fill="#000"/>
<rect x="392" y="2076.1" width="290" height="289.2" fill="#000"/>
<rect x="392" y="2377.6" width="290" height="289.2" fill="#000"/>
<defs><filter id="pb05" x="-50%" y="-50%" width="200%" height="200%"><feGaussianBlur stdDeviation="0.5"/></filter>
<filter id="pb08" x="-50%" y="-50%" width="200%" height="200%"><feGaussianBlur stdDeviation="0.8"/></filter>
<filter id="pb1" x="-50%" y="-50%" width="200%" height="200%"><feGaussianBlur stdDeviation="1.1"/></filter>
<filter id="pb2" x="-50%" y="-50%" width="200%" height="200%"><feGaussianBlur stdDeviation="2"/></filter>
<clipPath id="imclip"><rect x="0" y="0" width="289.8" height="289.6"/></clipPath>
<filter id="fG1" filterUnits="userSpaceOnUse" x="0" y="0" width="290" height="290" color-interpolation-filters="sRGB">
<feGaussianBlur in="SourceGraphic" stdDeviation="8" result="m0"/><feTurbulence type="fractalNoise" baseFrequency="0.03" numOctaves="2" seed="111" result="d"/><feDisplacementMap in="m0" in2="d" scale="16" xChannelSelector="R" yChannelSelector="G" result="m"/>
<feTurbulence type="fractalNoise" baseFrequency="0.16" numOctaves="3" seed="11" result="t"/>
<feColorMatrix in="t" type="matrix" values="1 0 0 0 0 1 0 0 0 0 1 0 0 0 0 0 0 0 0 1" result="n"/>
<feComposite in="m" in2="n" operator="arithmetic" k1="4.6" k2="-1.9" k3="0" k4="0" result="p"/>
<feComponentTransfer in="p" result="q"><feFuncR type="linear" slope="1.3" intercept="-0.02"/></feComponentTransfer>
<feColorMatrix in="q" type="matrix" values="0 0 0 0 0.05 0 0 0 0 1 0 0 0 0 0.05 1 0 0 0 0" result="c"/><feGaussianBlur stdDeviation="0.6"/>
</filter>
<g id="LG1"><g filter="url(#fG1)"><rect x="-60" y="-60" width="410" height="410" fill="#000"/><rect x="0" y="0" width="290" height="290" fill="#fff" opacity="0.03"/><ellipse cx="146" cy="140" rx="120" ry="110" fill="#fff" opacity="0.13"/><ellipse cx="140" cy="130" rx="46" ry="38" fill="#000" opacity="0.5"/><ellipse cx="224" cy="132" rx="30" ry="26" fill="#fff" opacity="0.22"/><ellipse cx="73" cy="150" rx="20" ry="18" fill="#fff" opacity="0.16"/><ellipse cx="190" cy="170" rx="36" ry="20" fill="#fff" opacity="0.17" transform="rotate(-25 190 170)"/><ellipse cx="139" cy="207" rx="16" ry="12" fill="#fff" opacity="0.2"/><ellipse cx="160" cy="80" rx="34" ry="20" fill="#fff" opacity="0.13"/><ellipse cx="120" cy="85" rx="30" ry="16" fill="#fff" opacity="0.08"/></g><g fill="#19c219" filter="url(#pb05)"><circle cx="34.0" cy="46.7" r="1.3" opacity="0.58"/><circle cx="250.6" cy="168.3" r="1.5" opacity="0.46"/><circle cx="183.8" cy="124.3" r="1.1" opacity="0.30"/><circle cx="26.6" cy="118.1" r="0.7" opacity="0.29"/><circle cx="151.5" cy="97.2" r="1.3" opacity="0.26"/><circle cx="109.4" cy="118.5" r="0.7" opacity="0.55"/><circle cx="162.7" cy="210.7" r="1.5" opacity="0.55"/><circle cx="7.3" cy="117.0" r="0.9" opacity="0.58"/><circle cx="208.9" cy="103.1" r="1.0" opacity="0.27"/><circle cx="167.2" cy="176.2" r="0.9" opacity="0.44"/><circle cx="103.1" cy="216.0" r="1.4" opacity="0.39"/><circle cx="102.3" cy="244.4" r="1.3" opacity="0.22"/><circle cx="166.2" cy="147.0" r="1.3" opacity="0.54"/><circle cx="62.7" cy="238.2" r="0.7" opacity="0.22"/><circle cx="96.3" cy="219.9" r="1.1" opacity="0.51"/><circle cx="268.8" cy="243.9" r="1.3" opacity="0.54"/><circle cx="218.9" cy="194.5" r="1.2" opacity="0.57"/><circle cx="67.1" cy="128.2" r="1.0" opacity="0.27"/><circle cx="193.6" cy="174.1" r="1.3" opacity="0.60"/><circle cx="161.8" cy="174.1" r="1.5" opacity="0.41"/><circle cx="87.9" cy="186.9" r="1.2" opacity="0.53"/><circle cx="50.4" cy="175.9" r="0.7" opacity="0.57"/><circle cx="254.5" cy="171.4" r="1.4" opacity="0.25"/><circle cx="31.8" cy="34.2" r="0.8" opacity="0.37"/><circle cx="117.0" cy="245.0" r="1.5" opacity="0.54"/><circle cx="249.3" cy="135.1" r="1.1" opacity="0.49"/><circle cx="67.9" cy="159.8" r="1.0" opacity="0.26"/><circle cx="275.2" cy="118.4" r="1.1" opacity="0.34"/><circle cx="210.2" cy="188.1" r="1.3" opacity="0.55"/><circle cx="38.6" cy="270.9" r="1.3" opacity="0.48"/><circle cx="63.5" cy="19.7" r="1.0" opacity="0.48"/><circle cx="124.9" cy="251.8" r="1.3" opacity="0.48"/><circle cx="72.2" cy="54.1" r="0.7" opacity="0.42"/><circle cx="145.4" cy="284.3" r="1.1" opacity="0.53"/><circle cx="44.0" cy="21.4" r="1.0" opacity="0.46"/><circle cx="245.2" cy="49.8" r="1.5" opacity="0.58"/><circle cx="30.1" cy="137.4" r="0.8" opacity="0.53"/><circle cx="245.9" cy="110.7" r="1.3" opacity="0.49"/><circle cx="138.8" cy="95.2" r="1.3" opacity="0.43"/><circle cx="95.8" cy="68.9" r="1.2" opacity="0.51"/><circle cx="47.0" cy="41.1" r="0.7" opacity="0.26"/><circle cx="17.7" cy="197.2" r="0.9" opacity="0.47"/><circle cx="127.1" cy="130.7" r="1.1" opacity="0.29"/><circle cx="193.9" cy="166.1" r="1.0" opacity="0.27"/><circle cx="154.9" cy="172.7" r="1.1" opacity="0.35"/><circle cx="49.1" cy="72.3" r="0.9" opacity="0.56"/><circle cx="242.9" cy="150.4" r="0.9" opacity="0.36"/><circle cx="280.4" cy="262.4" r="1.0" opacity="0.21"/><circle cx="113.9" cy="123.7" r="1.1" opacity="0.34"/><circle cx="187.3" cy="64.8" r="1.4" opacity="0.46"/><circle cx="110.1" cy="186.4" r="1.2" opacity="0.43"/><circle cx="77.4" cy="97.2" r="1.4" opacity="0.20"/><circle cx="241.6" cy="222.9" r="1.2" opacity="0.26"/><circle cx="8.5" cy="12.2" r="1.0" opacity="0.37"/><circle cx="157.7" cy="223.9" r="1.5" opacity="0.35"/><circle cx="85.3" cy="110.5" r="1.5" opacity="0.40"/><circle cx="74.2" cy="190.0" r="1.5" opacity="0.40"/><circle cx="121.5" cy="249.8" r="0.8" opacity="0.45"/><circle cx="71.8" cy="176.1" r="1.3" opacity="0.53"/><circle cx="262.8" cy="159.2" r="0.9" opacity="0.57"/><circle cx="160.2" cy="83.8" r="0.9" opacity="0.26"/><circle cx="224.9" cy="144.7" r="1.2" opacity="0.39"/><circle cx="66.7" cy="53.3" r="1.3" opacity="0.25"/><circle cx="151.2" cy="74.0" r="1.1" opacity="0.33"/><circle cx="112.2" cy="255.8" r="1.1" opacity="0.34"/><circle cx="142.0" cy="29.7" r="0.7" opacity="0.30"/><circle cx="236.9" cy="76.8" r="0.7" opacity="0.51"/><circle cx="34.2" cy="201.7" r="1.3" opacity="0.45"/><circle cx="74.7" cy="209.2" r="1.4" opacity="0.28"/><circle cx="111.5" cy="59.9" r="0.9" opacity="0.51"/><circle cx="190.6" cy="123.4" r="1.1" opacity="0.42"/><circle cx="60.9" cy="151.2" r="0.8" opacity="0.43"/><circle cx="159.5" cy="118.6" r="0.9" opacity="0.53"/><circle cx="182.4" cy="21.7" r="0.7" opacity="0.49"/><circle cx="136.9" cy="122.8" r="1.4" opacity="0.29"/><circle cx="134.1" cy="102.9" r="0.9" opacity="0.57"/><circle cx="222.9" cy="249.9" r="1.0" opacity="0.26"/><circle cx="125.6" cy="131.3" r="0.8" opacity="0.35"/><circle cx="175.4" cy="163.5" r="1.2" opacity="0.50"/><circle cx="182.9" cy="116.6" r="1.0" opacity="0.33"/><circle cx="57.0" cy="88.5" r="1.5" opacity="0.35"/><circle cx="283.9" cy="197.7" r="0.8" opacity="0.45"/><circle cx="21.5" cy="107.6" r="0.9" opacity="0.42"/><circle cx="95.4" cy="144.9" r="0.9" opacity="0.35"/><circle cx="141.0" cy="93.6" r="1.3" opacity="0.46"/><circle cx="267.3" cy="218.2" r="0.8" opacity="0.25"/><circle cx="87.7" cy="113.0" r="1.4" opacity="0.39"/><circle cx="197.3" cy="167.0" r="1.5" opacity="0.47"/><circle cx="153.9" cy="194.1" r="1.5" opacity="0.47"/><circle cx="168.4" cy="105.4" r="1.2" opacity="0.34"/><circle cx="154.0" cy="230.7" r="1.2" opacity="0.34"/><circle cx="107.2" cy="182.1" r="1.4" opacity="0.46"/><circle cx="180.0" cy="59.6" r="1.4" opacity="0.41"/><circle cx="42.4" cy="85.4" r="1.3" opacity="0.36"/><circle cx="166.2" cy="163.4" r="0.9" opacity="0.22"/><circle cx="229.5" cy="83.9" r="1.3" opacity="0.20"/><circle cx="72.5" cy="85.0" r="1.1" opacity="0.24"/><circle cx="177.5" cy="193.8" r="1.0" opacity="0.35"/><circle cx="185.9" cy="114.7" r="0.9" opacity="0.31"/><circle cx="187.2" cy="212.9" r="0.9" opacity="0.39"/><circle cx="91.8" cy="25.5" r="1.1" opacity="0.58"/><circle cx="250.2" cy="240.3" r="0.9" opacity="0.47"/><circle cx="138.6" cy="96.7" r="0.9" opacity="0.21"/><circle cx="150.7" cy="186.0" r="1.0" opacity="0.59"/><circle cx="92.0" cy="208.6" r="1.1" opacity="0.31"/><circle cx="129.3" cy="7.7" r="0.8" opacity="0.30"/><circle cx="84.6" cy="74.2" r="1.5" opacity="0.20"/><circle cx="121.7" cy="164.6" r="1.1" opacity="0.60"/><circle cx="58.4" cy="140.1" r="0.8" opacity="0.23"/><circle cx="234.8" cy="87.9" r="1.4" opacity="0.22"/><circle cx="147.3" cy="178.9" r="1.0" opacity="0.22"/><circle cx="142.7" cy="242.0" r="0.9" opacity="0.22"/><circle cx="194.6" cy="246.9" r="1.0" opacity="0.41"/><circle cx="217.1" cy="189.5" r="0.8" opacity="0.42"/><circle cx="258.9" cy="92.3" r="1.4" opacity="0.29"/><circle cx="263.6" cy="162.2" r="1.1" opacity="0.43"/><circle cx="50.9" cy="238.2" r="1.3" opacity="0.57"/><circle cx="109.3" cy="241.9" r="1.4" opacity="0.29"/><circle cx="207.4" cy="201.7" r="0.8" opacity="0.51"/><circle cx="180.8" cy="79.3" r="0.8" opacity="0.23"/><circle cx="147.3" cy="187.8" r="1.0" opacity="0.43"/><circle cx="147.0" cy="182.0" r="1.3" opacity="0.22"/><circle cx="170.2" cy="220.2" r="1.0" opacity="0.24"/><circle cx="73.6" cy="187.4" r="1.3" opacity="0.42"/><circle cx="256.0" cy="70.3" r="1.3" opacity="0.43"/><circle cx="125.7" cy="11.4" r="0.9" opacity="0.52"/><circle cx="108.9" cy="182.0" r="0.8" opacity="0.27"/><circle cx="134.7" cy="284.7" r="0.9" opacity="0.23"/><circle cx="156.5" cy="35.5" r="0.7" opacity="0.22"/><circle cx="207.1" cy="211.7" r="1.4" opacity="0.58"/><circle cx="93.5" cy="107.8" r="1.0" opacity="0.34"/><circle cx="138.7" cy="162.5" r="1.2" opacity="0.53"/><circle cx="139.8" cy="110.1" r="1.1" opacity="0.27"/><circle cx="120.0" cy="55.3" r="1.5" opacity="0.52"/><circle cx="207.1" cy="203.2" r="1.4" opacity="0.38"/><circle cx="52.1" cy="189.0" r="1.3" opacity="0.57"/><circle cx="109.4" cy="126.1" r="1.4" opacity="0.37"/><circle cx="268.0" cy="174.2" r="1.1" opacity="0.55"/><circle cx="94.3" cy="189.2" r="0.9" opacity="0.28"/><circle cx="63.5" cy="117.7" r="1.3" opacity="0.30"/><circle cx="103.2" cy="204.6" r="1.5" opacity="0.54"/><circle cx="223.4" cy="48.9" r="1.0" opacity="0.26"/><circle cx="200.1" cy="59.0" r="0.7" opacity="0.27"/><circle cx="268.9" cy="233.2" r="1.4" opacity="0.28"/><circle cx="170.5" cy="73.8" r="1.2" opacity="0.55"/><circle cx="24.0" cy="37.1" r="1.0" opacity="0.20"/><circle cx="20.1" cy="141.2" r="0.8" opacity="0.36"/><circle cx="136.9" cy="169.2" r="0.9" opacity="0.35"/><circle cx="96.2" cy="24.5" r="1.1" opacity="0.52"/><circle cx="63.0" cy="241.7" r="1.2" opacity="0.41"/><circle cx="137.9" cy="185.4" r="0.8" opacity="0.34"/><circle cx="5.6" cy="76.5" r="1.3" opacity="0.32"/><circle cx="214.7" cy="119.0" r="1.3" opacity="0.23"/><circle cx="149.0" cy="16.0" r="1.5" opacity="0.56"/><circle cx="136.7" cy="26.6" r="0.9" opacity="0.41"/><circle cx="201.8" cy="109.6" r="1.5" opacity="0.42"/><circle cx="140.3" cy="154.3" r="1.0" opacity="0.27"/><circle cx="256.7" cy="83.6" r="1.0" opacity="0.24"/><circle cx="100.7" cy="44.1" r="1.3" opacity="0.35"/><circle cx="195.8" cy="109.4" r="0.9" opacity="0.31"/><circle cx="212.7" cy="260.6" r="1.3" opacity="0.29"/><circle cx="259.3" cy="194.6" r="1.4" opacity="0.55"/><circle cx="132.4" cy="57.4" r="1.0" opacity="0.41"/><circle cx="212.6" cy="107.0" r="0.9" opacity="0.44"/><circle cx="205.8" cy="137.9" r="0.7" opacity="0.25"/><circle cx="26.6" cy="103.1" r="0.8" opacity="0.28"/><circle cx="32.5" cy="77.4" r="1.3" opacity="0.49"/><circle cx="247.4" cy="189.0" r="1.4" opacity="0.58"/><circle cx="204.3" cy="63.8" r="0.8" opacity="0.28"/><circle cx="169.2" cy="183.1" r="0.8" opacity="0.45"/><circle cx="272.5" cy="242.9" r="1.3" opacity="0.53"/><circle cx="195.7" cy="15.8" r="1.4" opacity="0.58"/><circle cx="181.3" cy="175.4" r="0.8" opacity="0.28"/><circle cx="71.8" cy="220.8" r="1.2" opacity="0.50"/><circle cx="229.5" cy="195.9" r="1.1" opacity="0.35"/><circle cx="240.7" cy="231.7" r="1.0" opacity="0.47"/><circle cx="180.6" cy="138.2" r="1.3" opacity="0.49"/><circle cx="132.5" cy="193.0" r="1.1" opacity="0.34"/><circle cx="87.9" cy="200.3" r="1.1" opacity="0.48"/><circle cx="176.2" cy="35.7" r="0.9" opacity="0.33"/><circle cx="212.4" cy="61.1" r="0.7" opacity="0.37"/><circle cx="156.7" cy="282.9" r="0.8" opacity="0.31"/><circle cx="235.1" cy="208.2" r="1.5" opacity="0.42"/><circle cx="220.7" cy="196.0" r="1.3" opacity="0.20"/><circle cx="155.0" cy="65.2" r="0.7" opacity="0.30"/><circle cx="55.9" cy="172.9" r="1.1" opacity="0.22"/><circle cx="45.5" cy="185.9" r="0.8" opacity="0.31"/><circle cx="285.0" cy="111.5" r="1.1" opacity="0.22"/><circle cx="17.1" cy="247.5" r="1.0" opacity="0.44"/><circle cx="257.8" cy="75.4" r="1.2" opacity="0.21"/><circle cx="244.8" cy="275.8" r="1.0" opacity="0.59"/><circle cx="212.4" cy="147.7" r="1.0" opacity="0.31"/><circle cx="69.3" cy="163.9" r="1.2" opacity="0.25"/><circle cx="197.1" cy="237.0" r="0.8" opacity="0.35"/><circle cx="152.0" cy="166.4" r="1.4" opacity="0.58"/><circle cx="104.2" cy="121.6" r="0.9" opacity="0.57"/><circle cx="168.1" cy="141.4" r="0.8" opacity="0.37"/><circle cx="31.5" cy="261.4" r="0.8" opacity="0.41"/><circle cx="184.9" cy="173.4" r="1.2" opacity="0.35"/><circle cx="72.5" cy="225.3" r="1.2" opacity="0.59"/></g><g filter="url(#pb1)" fill="#2bff2b"><circle cx="61.3" cy="105.3" r="3.6"/><circle cx="74" cy="88.8" r="3.0" opacity="0.8"/><circle cx="148" cy="86.2" r="3.0" opacity="0.75"/><circle cx="189.7" cy="76.1" r="4.0"/><circle cx="191.5" cy="78.5" r="3.0"/><circle cx="180.2" cy="56.6" r="2.6" opacity="0.55"/><circle cx="154" cy="32.2" r="2.4" opacity="0.5"/><circle cx="101" cy="177.5" r="3.4"/><circle cx="94" cy="169.7" r="2.8" opacity="0.6"/><circle cx="127.9" cy="193.2" r="3.5"/><circle cx="54" cy="184.5" r="2.8" opacity="0.7"/><circle cx="168" cy="178.4" r="2.5" opacity="0.5"/><circle cx="8" cy="274" r="1.6" opacity="0.8"/></g></g>
<g id="LG1m"><g filter="url(#fG1)"><rect x="-60" y="-60" width="410" height="410" fill="#000"/><rect x="0" y="0" width="290" height="290" fill="#fff" opacity="0.03"/><ellipse cx="146" cy="140" rx="120" ry="110" fill="#fff" opacity="0.13"/><ellipse cx="140" cy="130" rx="46" ry="38" fill="#000" opacity="0.5"/><ellipse cx="224" cy="132" rx="30" ry="26" fill="#fff" opacity="0.22"/><ellipse cx="73" cy="150" rx="20" ry="18" fill="#fff" opacity="0.16"/><ellipse cx="190" cy="170" rx="36" ry="20" fill="#fff" opacity="0.17" transform="rotate(-25 190 170)"/><ellipse cx="139" cy="207" rx="16" ry="12" fill="#fff" opacity="0.2"/><ellipse cx="160" cy="80" rx="34" ry="20" fill="#fff" opacity="0.13"/><ellipse cx="120" cy="85" rx="30" ry="16" fill="#fff" opacity="0.08"/></g><g fill="#19c219" filter="url(#pb05)"><circle cx="39.9" cy="52.4" r="1.2" opacity="0.48"/><circle cx="245.1" cy="167.2" r="1.3" opacity="0.39"/><circle cx="181.8" cy="125.7" r="0.9" opacity="0.27"/><circle cx="32.9" cy="119.9" r="0.6" opacity="0.27"/><circle cx="151.2" cy="100.1" r="1.2" opacity="0.24"/><circle cx="111.3" cy="120.2" r="0.6" opacity="0.46"/><circle cx="161.8" cy="207.3" r="1.3" opacity="0.46"/><circle cx="14.6" cy="118.8" r="0.7" opacity="0.48"/><circle cx="205.5" cy="105.7" r="0.9" opacity="0.25"/><circle cx="166.1" cy="174.7" r="0.8" opacity="0.38"/><circle cx="281.4" cy="152.7" r="0.8" opacity="0.29"/><circle cx="189.0" cy="61.6" r="0.8" opacity="0.34"/><circle cx="137.3" cy="122.1" r="1.3" opacity="0.21"/><circle cx="67.1" cy="233.3" r="0.6" opacity="0.21"/><circle cx="195.8" cy="284.7" r="1.3" opacity="0.48"/><circle cx="98.9" cy="216.0" r="1.0" opacity="0.43"/><circle cx="262.4" cy="238.7" r="1.2" opacity="0.46"/><circle cx="215.0" cy="192.1" r="1.0" opacity="0.48"/><circle cx="71.2" cy="129.4" r="0.8" opacity="0.25"/><circle cx="191.1" cy="172.8" r="1.1" opacity="0.50"/><circle cx="161.0" cy="172.8" r="1.3" opacity="0.36"/><circle cx="91.0" cy="184.9" r="1.0" opacity="0.45"/><circle cx="55.4" cy="174.5" r="0.6" opacity="0.47"/><circle cx="248.8" cy="170.2" r="1.2" opacity="0.24"/><circle cx="37.8" cy="40.6" r="0.7" opacity="0.33"/><circle cx="248.8" cy="282.3" r="0.8" opacity="0.34"/><circle cx="243.8" cy="136.0" r="0.9" opacity="0.42"/><circle cx="72.0" cy="159.3" r="0.9" opacity="0.24"/><circle cx="268.4" cy="120.2" r="0.9" opacity="0.30"/><circle cx="206.8" cy="186.0" r="1.1" opacity="0.46"/><circle cx="44.2" cy="264.2" r="1.1" opacity="0.41"/><circle cx="67.8" cy="26.9" r="0.9" opacity="0.41"/><circle cx="126.0" cy="246.2" r="1.1" opacity="0.41"/><circle cx="76.1" cy="59.5" r="0.6" opacity="0.36"/><circle cx="145.4" cy="276.9" r="0.9" opacity="0.45"/><circle cx="49.4" cy="28.5" r="0.8" opacity="0.39"/><circle cx="44.2" cy="282.3" r="1.2" opacity="0.41"/><circle cx="36.2" cy="138.1" r="0.7" opacity="0.45"/><circle cx="240.7" cy="112.9" r="1.1" opacity="0.42"/><circle cx="139.2" cy="98.2" r="1.1" opacity="0.37"/><circle cx="98.4" cy="73.4" r="1.0" opacity="0.43"/><circle cx="52.2" cy="47.2" r="0.6" opacity="0.25"/><circle cx="24.4" cy="194.6" r="0.8" opacity="0.41"/><circle cx="128.1" cy="131.8" r="0.9" opacity="0.27"/><circle cx="191.4" cy="165.2" r="0.8" opacity="0.25"/><circle cx="154.5" cy="171.5" r="0.9" opacity="0.31"/><circle cx="54.2" cy="76.7" r="0.8" opacity="0.47"/><circle cx="237.8" cy="150.4" r="0.8" opacity="0.32"/><circle cx="273.3" cy="256.1" r="0.9" opacity="0.21"/><circle cx="115.6" cy="125.2" r="1.0" opacity="0.30"/><circle cx="185.2" cy="69.5" r="1.2" opacity="0.39"/><circle cx="112.0" cy="184.4" r="1.0" opacity="0.37"/><circle cx="81.0" cy="100.1" r="1.2" opacity="0.20"/><circle cx="236.5" cy="218.9" r="1.0" opacity="0.24"/><circle cx="15.7" cy="19.9" r="0.9" opacity="0.33"/><circle cx="157.1" cy="219.8" r="1.3" opacity="0.31"/><circle cx="88.5" cy="112.7" r="1.3" opacity="0.35"/><circle cx="78.0" cy="187.7" r="1.3" opacity="0.35"/><circle cx="122.8" cy="244.2" r="0.7" opacity="0.39"/><circle cx="75.7" cy="174.6" r="1.1" opacity="0.45"/><circle cx="256.6" cy="158.7" r="0.8" opacity="0.48"/><circle cx="159.5" cy="87.5" r="0.8" opacity="0.25"/><circle cx="220.8" cy="145.0" r="1.0" opacity="0.34"/><circle cx="70.9" cy="58.7" r="1.1" opacity="0.24"/><circle cx="151.0" cy="78.3" r="1.0" opacity="0.30"/><circle cx="113.9" cy="249.9" r="0.9" opacity="0.31"/><circle cx="142.2" cy="36.4" r="0.6" opacity="0.28"/><circle cx="232.2" cy="80.9" r="0.6" opacity="0.43"/><circle cx="40.1" cy="198.8" r="1.1" opacity="0.39"/><circle cx="78.5" cy="205.9" r="1.2" opacity="0.26"/><circle cx="113.3" cy="64.9" r="0.8" opacity="0.43"/><circle cx="188.3" cy="124.9" r="0.9" opacity="0.36"/><circle cx="65.4" cy="151.1" r="0.7" opacity="0.38"/><circle cx="158.8" cy="120.4" r="0.8" opacity="0.45"/><circle cx="180.5" cy="28.8" r="0.6" opacity="0.42"/><circle cx="137.4" cy="124.3" r="1.2" opacity="0.27"/><circle cx="134.7" cy="105.6" r="0.8" opacity="0.48"/><circle cx="218.8" cy="244.3" r="0.9" opacity="0.25"/><circle cx="126.7" cy="132.4" r="0.7" opacity="0.31"/><circle cx="173.9" cy="162.8" r="1.0" opacity="0.42"/><circle cx="180.9" cy="118.4" r="0.9" opacity="0.29"/><circle cx="61.6" cy="91.9" r="1.3" opacity="0.31"/><circle cx="276.7" cy="195.1" r="0.7" opacity="0.39"/><circle cx="28.0" cy="110.0" r="0.8" opacity="0.37"/><circle cx="98.0" cy="145.1" r="0.8" opacity="0.31"/><circle cx="141.3" cy="96.7" r="1.1" opacity="0.40"/><circle cx="260.9" cy="214.4" r="0.7" opacity="0.24"/><circle cx="90.8" cy="115.1" r="1.2" opacity="0.34"/><circle cx="74.6" cy="285.9" r="0.6" opacity="0.42"/><circle cx="194.6" cy="166.1" r="1.3" opacity="0.40"/></g><g filter="url(#pb1)" fill="#40ff30"><circle cx="61.3" cy="105.3" r="3.6"/><circle cx="74" cy="88.8" r="3.0" opacity="0.8"/><circle cx="148" cy="86.2" r="3.0" opacity="0.75"/><circle cx="189.7" cy="76.1" r="4.0"/><circle cx="191.5" cy="78.5" r="3.0"/><circle cx="180.2" cy="56.6" r="2.6" opacity="0.55"/><circle cx="154" cy="32.2" r="2.4" opacity="0.5"/><circle cx="101" cy="177.5" r="3.4"/><circle cx="94" cy="169.7" r="2.8" opacity="0.6"/><circle cx="127.9" cy="193.2" r="3.5"/><circle cx="54" cy="184.5" r="2.8" opacity="0.7"/><circle cx="168" cy="178.4" r="2.5" opacity="0.5"/><circle cx="8" cy="274" r="1.6" opacity="0.8"/></g></g>
<filter id="fB1" filterUnits="userSpaceOnUse" x="0" y="0" width="290" height="290" color-interpolation-filters="sRGB">
<feGaussianBlur in="SourceGraphic" stdDeviation="1.8" result="m"/>
<feTurbulence type="fractalNoise" baseFrequency="0.07" numOctaves="2" seed="4" result="t"/>
<feColorMatrix in="t" type="matrix" values="1 0 0 0 0 1 0 0 0 0 1 0 0 0 0 0 0 0 0 1" result="n"/>
<feComposite in="m" in2="n" operator="arithmetic" k1="0.9" k2="0.56" k3="0" k4="0" result="p"/>
<feComponentTransfer in="p" result="q"><feFuncR type="linear" slope="1" intercept="0"/></feComponentTransfer>
<feColorMatrix in="q" type="matrix" values="0 0 0 0 0.02 0 0 0 0 0.02 0 0 0 0 0.93 1 0 0 0 0"/>
</filter>
<g id="LB1"><g filter="url(#fB1)"><rect x="-60" y="-60" width="410" height="410" fill="#000"/><path d="M67,116 C67,85 90,60 122,60 C138,60 148,75 151,92 C160,84 172,81 185,84 C205,88 221,100 221,112 C221,130 212,147 197,158 C180,172 160,182 138,182 C110,182 90,172 80,155 C72,143 67,130 67,116 Z" fill="#fff" opacity="1"/></g></g>
<g id="LB1m"><g filter="url(#fB1)"><rect x="-60" y="-60" width="410" height="410" fill="#000"/><path d="M70,118 C70,88 92,61 124,61 C142,61 152,76 156,92 C166,85 178,84 190,88 C208,94 223,104 223,114 C223,132 214,149 199,160 C182,174 162,185 140,185 C112,185 92,174 82,157 C74,145 70,132 70,118 Z" fill="#fff" opacity="1"/></g></g>
<filter id="fR1" filterUnits="userSpaceOnUse" x="0" y="0" width="290" height="290" color-interpolation-filters="sRGB">
<feGaussianBlur in="SourceGraphic" stdDeviation="3.2" result="m0"/><feTurbulence type="fractalNoise" baseFrequency="0.05" numOctaves="2" seed="121" result="d"/><feDisplacementMap in="m0" in2="d" scale="14" xChannelSelector="R" yChannelSelector="G" result="m"/>
<feTurbulence type="fractalNoise" baseFrequency="0.1" numOctaves="3" seed="21" result="t"/>
<feColorMatrix in="t" type="matrix" values="1 0 0 0 0 1 0 0 0 0 1 0 0 0 0 0 0 0 0 1" result="n"/>
<feComposite in="m" in2="n" operator="arithmetic" k1="4.2" k2="-1.05" k3="0" k4="0" result="p"/>
<feComponentTransfer in="p" result="q"><feFuncR type="linear" slope="1.15" intercept="-0.08"/></feComponentTransfer>
<feColorMatrix in="q" type="matrix" values="0 0 0 0 0.9 0 0 0 0 0.02 0 0 0 0 0.02 1 0 0 0 0" result="c"/><feGaussianBlur stdDeviation="0.8"/>
</filter>
<g id="LR1"><g filter="url(#fR1)"><rect x="-60" y="-60" width="410" height="410" fill="#000"/><path d="M93,62 C110,62 126,66 140,74 C150,80 158,86 166,88" fill="none" opacity="0.9" stroke="#fff" stroke-width="14.3" stroke-linecap="round" stroke-linejoin="round"/><path d="M196,82 C212,84 228,90 234,100 C242,112 240,128 232,142 C226,152 220,158 214,164" fill="none" opacity="0.95" stroke="#fff" stroke-width="19.5" stroke-linecap="round" stroke-linejoin="round"/><path d="M214,164 C200,180 180,190 158,192 C146,193 136,190 126,184" fill="none" opacity="0.95" stroke="#fff" stroke-width="19.5" stroke-linecap="round" stroke-linejoin="round"/><path d="M66,132 C70,150 78,166 90,178" fill="none" opacity="1" stroke="#fff" stroke-width="16.9" stroke-linecap="round" stroke-linejoin="round"/><path d="M93,62 C80,70 72,84 66,98 C56,108 44,116 38,126 C44,140 56,150 66,160" fill="none" opacity="0.75" stroke="#fff" stroke-width="11.7" stroke-linecap="round" stroke-linejoin="round"/><path d="M90,178 C100,186 112,190 126,186" fill="none" opacity="0.8" stroke="#fff" stroke-width="13.0" stroke-linecap="round" stroke-linejoin="round"/><path d="M166,88 C178,84 188,82 196,82" fill="none" opacity="0.5" stroke="#fff" stroke-width="9.1" stroke-linecap="round" stroke-linejoin="round"/><ellipse cx="232" cy="96" rx="12" ry="10" fill="#fff" opacity="1"/><ellipse cx="156" cy="85" rx="9" ry="7" fill="#fff" opacity="1"/><ellipse cx="100" cy="62" rx="8" ry="6" fill="#fff" opacity="0.9"/><ellipse cx="160" cy="192" rx="12" ry="8" fill="#fff" opacity="0.9"/><ellipse cx="228" cy="140" rx="9" ry="10" fill="#fff" opacity="0.9"/><path d="M126,226 C134,232 142,228 150,222 M104,240 C112,246 118,242 124,246 M180,244 C192,250 204,246 212,240 M222,228 C230,224 236,226 242,220 M150,200 C156,210 160,218 158,228" fill="none" opacity="0.6" stroke="#fff" stroke-width="6.5" stroke-linecap="round" stroke-linejoin="round"/><path d="M262,100 C272,102 280,106 288,104 M20,140 C28,142 34,140 40,136" fill="none" opacity="0.5" stroke="#fff" stroke-width="6.5" stroke-linecap="round" stroke-linejoin="round"/></g></g>
<filter id="fG2" filterUnits="userSpaceOnUse" x="0" y="0" width="290" height="290" color-interpolation-filters="sRGB">
<feGaussianBlur in="SourceGraphic" stdDeviation="4" result="m"/>
<feTurbulence type="fractalNoise" baseFrequency="0.2" numOctaves="3" seed="31" result="t"/>
<feColorMatrix in="t" type="matrix" values="1 0 0 0 0 1 0 0 0 0 1 0 0 0 0 0 0 0 0 1" result="n"/>
<feComposite in="m" in2="n" operator="arithmetic" k1="5.2" k2="-2.2" k3="0" k4="0" result="p"/>
<feComponentTransfer in="p" result="q"><feFuncR type="linear" slope="1.1" intercept="-0.02"/></feComponentTransfer>
<feColorMatrix in="q" type="matrix" values="0 0 0 0 0.05 0 0 0 0 1 0 0 0 0 0.05 1 0 0 0 0" result="c"/><feGaussianBlur stdDeviation="0.5"/>
</filter>
<filter id="fG2c" filterUnits="userSpaceOnUse" x="0" y="0" width="290" height="290" color-interpolation-filters="sRGB">
<feGaussianBlur in="SourceGraphic" stdDeviation="1.6" result="m0"/><feTurbulence type="fractalNoise" baseFrequency="0.08" numOctaves="2" seed="177" result="d"/><feDisplacementMap in="m0" in2="d" scale="6" xChannelSelector="R" yChannelSelector="G" result="m"/>
<feTurbulence type="fractalNoise" baseFrequency="0.16" numOctaves="3" seed="77" result="t"/>
<feColorMatrix in="t" type="matrix" values="1 0 0 0 0 1 0 0 0 0 1 0 0 0 0 0 0 0 0 1" result="n"/>
<feComposite in="m" in2="n" operator="arithmetic" k1="3.6" k2="-0.75" k3="0" k4="0" result="p"/>
<feComponentTransfer in="p" result="q"><feFuncR type="linear" slope="1.1" intercept="-0.04"/></feComponentTransfer>
<feColorMatrix in="q" type="matrix" values="0 0 0 0 0.05 0 0 0 0 1 0 0 0 0 0.05 1 0 0 0 0" result="c"/><feGaussianBlur stdDeviation="0.5"/>
</filter>
<g id="LG2"><g filter="url(#fG2)"><rect x="-60" y="-60" width="410" height="410" fill="#000"/><rect x="0" y="0" width="290" height="290" fill="#fff" opacity="0.03"/><path d="M70,78 C80,60 110,50 140,50 C165,50 195,64 208,90 C206,110 198,130 192,150 C186,175 183,200 184,255 C176,266 160,260 148,246 C130,225 112,195 98,172 C86,150 80,125 74,100 C72,92 70,85 70,78 Z" fill="#fff" opacity="0.16"/><ellipse cx="135" cy="130" rx="45" ry="50" fill="#fff" opacity="0.08"/></g><g filter="url(#fG2c)"><rect x="-60" y="-60" width="410" height="410" fill="#000"/><ellipse cx="91" cy="131" rx="7" ry="15" fill="#fff" opacity="0.95" transform="rotate(-8 91 131)"/><ellipse cx="104" cy="156" rx="12" ry="6" fill="#fff" opacity="0.9" transform="rotate(20 104 156)"/><ellipse cx="113" cy="154" rx="5" ry="5" fill="#fff" opacity="0.9"/><ellipse cx="140" cy="147" rx="5" ry="6" fill="#fff" opacity="0.9" transform="rotate(30 140 147)"/><ellipse cx="120" cy="107" rx="4.5" ry="4" fill="#fff" opacity="0.9"/><ellipse cx="101" cy="101" rx="3.5" ry="3" fill="#fff" opacity="0.8"/><ellipse cx="105" cy="57" rx="5" ry="4" fill="#fff" opacity="0.8"/><ellipse cx="140" cy="60" rx="6" ry="4" fill="#fff" opacity="0.9"/><ellipse cx="154" cy="56" rx="4" ry="4" fill="#fff" opacity="0.9"/><ellipse cx="170" cy="59" rx="5.5" ry="4" fill="#fff" opacity="1"/><ellipse cx="180" cy="86" rx="4" ry="5" fill="#fff" opacity="0.85"/><ellipse cx="207" cy="95" rx="3" ry="3" fill="#fff" opacity="0.9"/><ellipse cx="171" cy="105" rx="2.6" ry="2.6" fill="#fff" opacity="0.8"/><ellipse cx="143" cy="106" rx="2.5" ry="2.5" fill="#fff" opacity="0.7"/><ellipse cx="120" cy="192" rx="8" ry="6" fill="#fff" opacity="0.95"/><ellipse cx="145" cy="185" rx="5" ry="6" fill="#fff" opacity="0.7"/><ellipse cx="126" cy="170" rx="4" ry="4" fill="#fff" opacity="0.7"/><ellipse cx="150" cy="160" rx="4" ry="3" fill="#fff" opacity="0.5"/><ellipse cx="168" cy="226" rx="3" ry="3" fill="#fff" opacity="0.8"/><ellipse cx="150" cy="233" rx="3" ry="3" fill="#fff" opacity="0.7"/><ellipse cx="130" cy="150" rx="6" ry="4" fill="#fff" opacity="0.6"/><ellipse cx="96" cy="115" rx="4" ry="5" fill="#fff" opacity="0.7"/></g><g fill="#19c219" filter="url(#pb05)"><circle cx="134.6" cy="109.3" r="0.7" opacity="0.45"/><circle cx="5.8" cy="145.8" r="1.2" opacity="0.18"/><circle cx="160.3" cy="177.9" r="0.6" opacity="0.28"/><circle cx="202.4" cy="131.5" r="1.1" opacity="0.21"/><circle cx="71.1" cy="35.3" r="1.0" opacity="0.47"/><circle cx="170.5" cy="222.3" r="0.9" opacity="0.41"/><circle cx="32.7" cy="86.1" r="1.1" opacity="0.40"/><circle cx="122.9" cy="28.7" r="0.8" opacity="0.22"/><circle cx="83.3" cy="232.3" r="0.7" opacity="0.46"/><circle cx="252.0" cy="19.5" r="0.9" opacity="0.32"/><circle cx="10.6" cy="123.8" r="1.2" opacity="0.19"/><circle cx="172.3" cy="38.2" r="1.0" opacity="0.46"/><circle cx="61.3" cy="6.3" r="0.7" opacity="0.34"/><circle cx="8.9" cy="27.9" r="0.9" opacity="0.47"/><circle cx="122.5" cy="116.3" r="1.0" opacity="0.18"/><circle cx="167.5" cy="52.7" r="1.0" opacity="0.49"/><circle cx="19.3" cy="160.5" r="1.0" opacity="0.20"/><circle cx="79.7" cy="284.6" r="1.3" opacity="0.19"/><circle cx="202.9" cy="272.2" r="0.8" opacity="0.36"/><circle cx="16.1" cy="107.2" r="1.1" opacity="0.36"/><circle cx="222.4" cy="28.5" r="0.8" opacity="0.45"/><circle cx="168.7" cy="131.3" r="0.9" opacity="0.50"/><circle cx="166.0" cy="9.2" r="1.2" opacity="0.27"/><circle cx="126.3" cy="64.2" r="0.9" opacity="0.26"/><circle cx="29.0" cy="181.5" r="0.7" opacity="0.42"/><circle cx="11.2" cy="224.2" r="1.2" opacity="0.32"/><circle cx="204.1" cy="74.0" r="1.1" opacity="0.30"/><circle cx="69.1" cy="275.9" r="0.9" opacity="0.28"/><circle cx="246.5" cy="108.2" r="1.1" opacity="0.21"/><circle cx="241.8" cy="77.0" r="0.6" opacity="0.49"/><circle cx="52.7" cy="270.9" r="1.3" opacity="0.36"/><circle cx="7.3" cy="21.2" r="0.7" opacity="0.29"/><circle cx="176.5" cy="276.5" r="0.8" opacity="0.20"/><circle cx="162.5" cy="42.7" r="0.7" opacity="0.34"/><circle cx="200.3" cy="22.5" r="0.9" opacity="0.40"/><circle cx="219.5" cy="112.0" r="1.2" opacity="0.21"/><circle cx="205.8" cy="221.6" r="1.2" opacity="0.32"/><circle cx="32.0" cy="17.7" r="1.0" opacity="0.21"/><circle cx="181.6" cy="27.8" r="1.1" opacity="0.23"/><circle cx="7.7" cy="53.6" r="0.9" opacity="0.35"/><circle cx="113.5" cy="52.8" r="0.9" opacity="0.48"/><circle cx="155.0" cy="269.4" r="0.6" opacity="0.50"/><circle cx="254.7" cy="157.5" r="1.0" opacity="0.34"/><circle cx="260.5" cy="22.5" r="1.0" opacity="0.34"/><circle cx="88.7" cy="208.4" r="1.1" opacity="0.19"/><circle cx="201.3" cy="131.9" r="0.9" opacity="0.37"/><circle cx="18.9" cy="174.0" r="0.9" opacity="0.46"/><circle cx="69.2" cy="236.1" r="1.1" opacity="0.37"/><circle cx="251.0" cy="14.2" r="1.0" opacity="0.36"/><circle cx="195.2" cy="118.7" r="0.6" opacity="0.22"/><circle cx="175.5" cy="55.1" r="0.6" opacity="0.27"/><circle cx="136.6" cy="155.0" r="0.6" opacity="0.42"/><circle cx="98.1" cy="224.8" r="0.6" opacity="0.48"/><circle cx="170.4" cy="279.3" r="1.3" opacity="0.44"/><circle cx="34.0" cy="102.4" r="0.8" opacity="0.42"/><circle cx="58.2" cy="66.4" r="0.7" opacity="0.19"/><circle cx="268.6" cy="279.3" r="0.9" opacity="0.41"/><circle cx="135.8" cy="151.2" r="0.9" opacity="0.37"/><circle cx="70.6" cy="76.3" r="1.0" opacity="0.22"/><circle cx="127.9" cy="270.2" r="0.6" opacity="0.19"/><circle cx="229.6" cy="20.3" r="0.8" opacity="0.45"/><circle cx="174.7" cy="66.2" r="0.6" opacity="0.25"/><circle cx="88.6" cy="229.7" r="1.3" opacity="0.43"/><circle cx="258.3" cy="266.5" r="1.2" opacity="0.47"/><circle cx="276.8" cy="30.6" r="0.8" opacity="0.24"/><circle cx="174.4" cy="142.7" r="0.8" opacity="0.44"/><circle cx="116.5" cy="62.9" r="0.8" opacity="0.31"/><circle cx="176.2" cy="164.3" r="0.9" opacity="0.22"/><circle cx="117.4" cy="95.7" r="0.7" opacity="0.34"/><circle cx="57.2" cy="204.7" r="1.1" opacity="0.20"/><circle cx="180.4" cy="99.3" r="0.9" opacity="0.36"/><circle cx="218.8" cy="253.2" r="1.1" opacity="0.22"/><circle cx="156.8" cy="98.6" r="0.6" opacity="0.34"/><circle cx="136.7" cy="248.5" r="0.8" opacity="0.44"/><circle cx="149.0" cy="31.9" r="1.1" opacity="0.25"/><circle cx="154.4" cy="24.1" r="0.6" opacity="0.47"/><circle cx="15.8" cy="46.0" r="0.7" opacity="0.18"/><circle cx="236.4" cy="284.7" r="1.1" opacity="0.29"/><circle cx="254.5" cy="146.8" r="0.7" opacity="0.39"/><circle cx="105.2" cy="80.1" r="0.8" opacity="0.28"/><circle cx="55.4" cy="176.7" r="1.2" opacity="0.35"/><circle cx="6.7" cy="196.9" r="0.6" opacity="0.32"/><circle cx="248.1" cy="195.0" r="1.2" opacity="0.41"/><circle cx="80.9" cy="44.5" r="0.9" opacity="0.39"/><circle cx="69.4" cy="97.4" r="1.1" opacity="0.27"/><circle cx="173.5" cy="157.8" r="1.3" opacity="0.16"/><circle cx="56.6" cy="223.5" r="1.1" opacity="0.18"/><circle cx="41.9" cy="63.4" r="1.0" opacity="0.47"/><circle cx="65.1" cy="61.2" r="1.1" opacity="0.30"/><circle cx="242.8" cy="285.7" r="1.3" opacity="0.40"/><circle cx="143.9" cy="21.2" r="1.2" opacity="0.29"/><circle cx="134.7" cy="182.3" r="1.3" opacity="0.34"/><circle cx="262.8" cy="275.9" r="0.7" opacity="0.27"/><circle cx="254.6" cy="220.4" r="1.3" opacity="0.22"/><circle cx="153.8" cy="267.1" r="1.0" opacity="0.38"/><circle cx="278.9" cy="52.9" r="0.6" opacity="0.45"/><circle cx="167.9" cy="60.5" r="1.2" opacity="0.25"/><circle cx="40.6" cy="87.9" r="0.6" opacity="0.29"/><circle cx="223.8" cy="132.0" r="1.3" opacity="0.16"/><circle cx="52.8" cy="44.6" r="1.0" opacity="0.22"/><circle cx="192.2" cy="151.5" r="1.0" opacity="0.45"/><circle cx="226.7" cy="264.1" r="0.7" opacity="0.28"/><circle cx="274.8" cy="115.9" r="0.8" opacity="0.32"/><circle cx="55.0" cy="243.2" r="1.0" opacity="0.18"/><circle cx="275.9" cy="150.8" r="0.8" opacity="0.36"/><circle cx="271.8" cy="101.8" r="0.6" opacity="0.22"/><circle cx="20.5" cy="153.1" r="0.8" opacity="0.45"/><circle cx="62.2" cy="8.3" r="0.9" opacity="0.19"/><circle cx="91.5" cy="67.6" r="0.7" opacity="0.37"/><circle cx="268.0" cy="108.4" r="1.0" opacity="0.26"/><circle cx="262.0" cy="159.9" r="0.6" opacity="0.41"/><circle cx="63.2" cy="17.2" r="0.6" opacity="0.44"/><circle cx="204.2" cy="105.0" r="1.0" opacity="0.40"/><circle cx="25.3" cy="203.0" r="1.1" opacity="0.48"/><circle cx="20.7" cy="165.4" r="1.0" opacity="0.45"/><circle cx="106.7" cy="190.8" r="1.2" opacity="0.27"/><circle cx="149.3" cy="256.0" r="0.6" opacity="0.49"/><circle cx="92.3" cy="133.0" r="0.8" opacity="0.43"/><circle cx="154.2" cy="214.9" r="0.7" opacity="0.46"/><circle cx="235.5" cy="195.8" r="0.8" opacity="0.24"/><circle cx="131.5" cy="22.4" r="1.3" opacity="0.29"/><circle cx="272.8" cy="55.6" r="1.1" opacity="0.43"/><circle cx="185.8" cy="123.3" r="0.6" opacity="0.30"/><circle cx="114.0" cy="270.5" r="1.3" opacity="0.48"/><circle cx="280.4" cy="51.6" r="0.6" opacity="0.25"/><circle cx="6.2" cy="37.5" r="1.0" opacity="0.22"/><circle cx="176.2" cy="111.3" r="0.8" opacity="0.49"/><circle cx="56.5" cy="252.8" r="1.0" opacity="0.38"/><circle cx="44.6" cy="214.1" r="1.2" opacity="0.22"/><circle cx="137.3" cy="188.2" r="0.9" opacity="0.41"/><circle cx="185.7" cy="92.5" r="1.1" opacity="0.42"/><circle cx="134.7" cy="170.5" r="1.0" opacity="0.32"/><circle cx="29.0" cy="119.0" r="1.1" opacity="0.40"/><circle cx="24.9" cy="138.8" r="1.0" opacity="0.34"/><circle cx="46.2" cy="186.4" r="1.1" opacity="0.34"/><circle cx="269.0" cy="166.9" r="0.6" opacity="0.25"/><circle cx="202.0" cy="26.5" r="1.3" opacity="0.39"/><circle cx="219.7" cy="51.9" r="0.6" opacity="0.46"/><circle cx="148.1" cy="128.7" r="1.0" opacity="0.42"/><circle cx="109.0" cy="221.9" r="0.7" opacity="0.49"/><circle cx="200.2" cy="93.8" r="0.9" opacity="0.46"/><circle cx="95.8" cy="201.1" r="1.2" opacity="0.49"/><circle cx="76.1" cy="228.1" r="1.0" opacity="0.43"/><circle cx="23.6" cy="120.5" r="0.9" opacity="0.44"/><circle cx="131.5" cy="15.9" r="0.7" opacity="0.44"/><circle cx="253.0" cy="165.8" r="0.7" opacity="0.42"/><circle cx="248.3" cy="85.0" r="0.9" opacity="0.25"/><circle cx="19.1" cy="211.0" r="0.7" opacity="0.18"/><circle cx="260.4" cy="31.2" r="1.1" opacity="0.44"/><circle cx="74.7" cy="109.0" r="0.8" opacity="0.40"/><circle cx="278.6" cy="213.8" r="0.9" opacity="0.34"/><circle cx="119.1" cy="205.5" r="0.8" opacity="0.24"/><circle cx="200.4" cy="75.9" r="1.3" opacity="0.40"/><circle cx="55.9" cy="10.0" r="1.0" opacity="0.20"/><circle cx="145.0" cy="173.2" r="1.2" opacity="0.29"/><circle cx="158.0" cy="233.7" r="0.7" opacity="0.27"/><circle cx="232.1" cy="105.0" r="1.3" opacity="0.18"/><circle cx="28.0" cy="106.4" r="0.9" opacity="0.28"/><circle cx="66.2" cy="130.3" r="1.2" opacity="0.48"/><circle cx="180.6" cy="76.4" r="1.0" opacity="0.21"/><circle cx="21.7" cy="228.2" r="0.8" opacity="0.21"/><circle cx="235.2" cy="38.5" r="0.8" opacity="0.20"/><circle cx="255.7" cy="196.2" r="0.7" opacity="0.18"/><circle cx="259.7" cy="40.2" r="1.1" opacity="0.39"/><circle cx="169.9" cy="139.1" r="0.9" opacity="0.25"/><circle cx="186.3" cy="46.5" r="0.9" opacity="0.24"/><circle cx="107.7" cy="255.2" r="1.0" opacity="0.38"/><circle cx="186.6" cy="4.4" r="1.1" opacity="0.46"/><circle cx="214.4" cy="151.3" r="1.2" opacity="0.48"/><circle cx="82.1" cy="50.3" r="0.8" opacity="0.16"/><circle cx="70.3" cy="27.3" r="0.6" opacity="0.29"/><circle cx="5.7" cy="139.6" r="1.2" opacity="0.40"/><circle cx="18.7" cy="209.3" r="0.7" opacity="0.43"/><circle cx="185.6" cy="157.5" r="0.9" opacity="0.49"/><circle cx="63.2" cy="257.4" r="0.7" opacity="0.18"/><circle cx="64.8" cy="14.5" r="1.2" opacity="0.21"/><circle cx="165.6" cy="81.4" r="0.9" opacity="0.43"/><circle cx="158.9" cy="79.3" r="1.1" opacity="0.20"/><circle cx="15.5" cy="199.9" r="1.2" opacity="0.42"/><circle cx="200.6" cy="266.5" r="1.2" opacity="0.35"/><circle cx="54.0" cy="167.4" r="0.9" opacity="0.40"/><circle cx="102.4" cy="24.5" r="0.7" opacity="0.20"/><circle cx="210.6" cy="198.1" r="1.0" opacity="0.26"/><circle cx="209.5" cy="130.2" r="0.9" opacity="0.22"/><circle cx="285.1" cy="128.8" r="0.9" opacity="0.22"/><circle cx="130.3" cy="136.8" r="0.9" opacity="0.41"/><circle cx="98.5" cy="179.7" r="1.1" opacity="0.20"/><circle cx="236.1" cy="23.8" r="0.8" opacity="0.44"/><circle cx="37.6" cy="81.8" r="0.9" opacity="0.48"/><circle cx="277.2" cy="65.4" r="1.0" opacity="0.44"/><circle cx="148.9" cy="92.7" r="0.7" opacity="0.17"/><circle cx="16.6" cy="17.5" r="1.1" opacity="0.36"/><circle cx="23.0" cy="268.1" r="1.3" opacity="0.30"/><circle cx="106.1" cy="250.9" r="1.1" opacity="0.41"/><circle cx="55.5" cy="209.5" r="0.9" opacity="0.17"/><circle cx="17.5" cy="78.5" r="0.8" opacity="0.24"/><circle cx="261.1" cy="116.1" r="0.7" opacity="0.19"/><circle cx="19.7" cy="118.4" r="0.9" opacity="0.18"/><circle cx="149.7" cy="101.1" r="0.6" opacity="0.32"/><circle cx="48.4" cy="54.9" r="1.1" opacity="0.30"/></g><g filter="url(#pb1)" fill="#2bff2b"><circle cx="65" cy="88.2" r="2.6"/><circle cx="218.5" cy="26.5" r="2.2"/><circle cx="8.4" cy="183.2" r="2"/><circle cx="247" cy="26" r="1.3" opacity="0.8"/><circle cx="83" cy="36" r="1.6" opacity="0.7"/><circle cx="170" cy="59" r="2.2"/><circle cx="207" cy="95" r="2"/><circle cx="120" cy="107" r="2.2"/><circle cx="154" cy="56" r="1.8"/></g></g>
<g id="LG2m"><g filter="url(#fG2)"><rect x="-60" y="-60" width="410" height="410" fill="#000"/><path d="M84,80 C92,66 120,58 150,58 C170,58 190,62 200,72 C190,70 170,66 150,66 C120,70 100,80 92,100 C90,120 100,130 124,138 C140,146 150,160 156,176 C160,190 170,196 178,200 C184,220 184,250 186,262 C170,264 150,250 130,224 C110,200 98,180 94,170 C86,150 80,130 78,116 C76,100 78,90 84,80 Z" fill="#fff" opacity="0.2"/></g><g filter="url(#fG2c)"><rect x="-60" y="-60" width="410" height="410" fill="#000"/><ellipse cx="91" cy="131" rx="7" ry="15" fill="#fff" opacity="0.95" transform="rotate(-8 91 131)"/><ellipse cx="104" cy="156" rx="12" ry="6" fill="#fff" opacity="0.9" transform="rotate(20 104 156)"/><ellipse cx="113" cy="154" rx="5" ry="5" fill="#fff" opacity="0.9"/><ellipse cx="105" cy="57" rx="5" ry="4" fill="#fff" opacity="0.8"/><ellipse cx="140" cy="60" rx="6" ry="4" fill="#fff" opacity="0.9"/><ellipse cx="154" cy="56" rx="4" ry="4" fill="#fff" opacity="0.9"/><ellipse cx="170" cy="59" rx="5.5" ry="4" fill="#fff" opacity="1"/><ellipse cx="120" cy="192" rx="8" ry="6" fill="#fff" opacity="0.95"/><ellipse cx="145" cy="185" rx="5" ry="6" fill="#fff" opacity="0.7"/><ellipse cx="126" cy="170" rx="4" ry="4" fill="#fff" opacity="0.7"/><ellipse cx="168" cy="226" rx="3" ry="3" fill="#fff" opacity="0.8"/><ellipse cx="150" cy="233" rx="3" ry="3" fill="#fff" opacity="0.7"/><ellipse cx="96" cy="115" rx="4" ry="5" fill="#fff" opacity="0.7"/></g><g fill="#19c219" filter="url(#pb05)"><circle cx="134.6" cy="109.3" r="0.7" opacity="0.41"/><circle cx="5.8" cy="145.8" r="1.2" opacity="0.17"/><circle cx="160.3" cy="177.9" r="0.6" opacity="0.26"/><circle cx="202.4" cy="131.5" r="1.1" opacity="0.20"/><circle cx="71.1" cy="35.3" r="1.0" opacity="0.43"/><circle cx="170.5" cy="222.3" r="0.9" opacity="0.37"/><circle cx="32.7" cy="86.1" r="1.1" opacity="0.37"/><circle cx="122.9" cy="28.7" r="0.8" opacity="0.21"/><circle cx="83.3" cy="232.3" r="0.7" opacity="0.42"/><circle cx="252.0" cy="19.5" r="0.9" opacity="0.30"/><circle cx="10.6" cy="123.8" r="1.2" opacity="0.18"/><circle cx="172.3" cy="38.2" r="1.0" opacity="0.42"/><circle cx="61.3" cy="6.3" r="0.7" opacity="0.31"/><circle cx="8.9" cy="27.9" r="0.9" opacity="0.43"/><circle cx="122.5" cy="116.3" r="1.0" opacity="0.18"/><circle cx="167.5" cy="52.7" r="1.0" opacity="0.44"/><circle cx="19.3" cy="160.5" r="1.0" opacity="0.19"/><circle cx="79.7" cy="284.6" r="1.3" opacity="0.19"/><circle cx="202.9" cy="272.2" r="0.8" opacity="0.33"/><circle cx="16.1" cy="107.2" r="1.1" opacity="0.33"/><circle cx="222.4" cy="28.5" r="0.8" opacity="0.41"/><circle cx="168.7" cy="131.3" r="0.9" opacity="0.45"/><circle cx="166.0" cy="9.2" r="1.2" opacity="0.25"/><circle cx="126.3" cy="64.2" r="0.9" opacity="0.25"/><circle cx="29.0" cy="181.5" r="0.7" opacity="0.39"/><circle cx="11.2" cy="224.2" r="1.2" opacity="0.30"/><circle cx="204.1" cy="74.0" r="1.1" opacity="0.28"/><circle cx="69.1" cy="275.9" r="0.9" opacity="0.26"/><circle cx="246.5" cy="108.2" r="1.1" opacity="0.20"/><circle cx="241.8" cy="77.0" r="0.6" opacity="0.44"/><circle cx="52.7" cy="270.9" r="1.3" opacity="0.33"/><circle cx="7.3" cy="21.2" r="0.7" opacity="0.27"/><circle cx="176.5" cy="276.5" r="0.8" opacity="0.19"/><circle cx="162.5" cy="42.7" r="0.7" opacity="0.32"/><circle cx="200.3" cy="22.5" r="0.9" opacity="0.36"/><circle cx="219.5" cy="112.0" r="1.2" opacity="0.20"/><circle cx="205.8" cy="221.6" r="1.2" opacity="0.30"/><circle cx="32.0" cy="17.7" r="1.0" opacity="0.20"/><circle cx="181.6" cy="27.8" r="1.1" opacity="0.22"/><circle cx="7.7" cy="53.6" r="0.9" opacity="0.32"/><circle cx="113.5" cy="52.8" r="0.9" opacity="0.43"/><circle cx="155.0" cy="269.4" r="0.6" opacity="0.45"/><circle cx="254.7" cy="157.5" r="1.0" opacity="0.31"/><circle cx="260.5" cy="22.5" r="1.0" opacity="0.31"/><circle cx="88.7" cy="208.4" r="1.1" opacity="0.18"/><circle cx="201.3" cy="131.9" r="0.9" opacity="0.34"/><circle cx="18.9" cy="174.0" r="0.9" opacity="0.41"/><circle cx="69.2" cy="236.1" r="1.1" opacity="0.34"/><circle cx="251.0" cy="14.2" r="1.0" opacity="0.33"/><circle cx="195.2" cy="118.7" r="0.6" opacity="0.21"/><circle cx="175.5" cy="55.1" r="0.6" opacity="0.26"/><circle cx="136.6" cy="155.0" r="0.6" opacity="0.38"/><circle cx="98.1" cy="224.8" r="0.6" opacity="0.44"/><circle cx="170.4" cy="279.3" r="1.3" opacity="0.40"/><circle cx="34.0" cy="102.4" r="0.8" opacity="0.38"/><circle cx="58.2" cy="66.4" r="0.7" opacity="0.19"/><circle cx="268.6" cy="279.3" r="0.9" opacity="0.37"/><circle cx="135.8" cy="151.2" r="0.9" opacity="0.34"/><circle cx="70.6" cy="76.3" r="1.0" opacity="0.21"/><circle cx="127.9" cy="270.2" r="0.6" opacity="0.18"/><circle cx="229.6" cy="20.3" r="0.8" opacity="0.41"/><circle cx="174.7" cy="66.2" r="0.6" opacity="0.23"/><circle cx="88.6" cy="229.7" r="1.3" opacity="0.39"/><circle cx="258.3" cy="266.5" r="1.2" opacity="0.43"/><circle cx="276.8" cy="30.6" r="0.8" opacity="0.22"/><circle cx="174.4" cy="142.7" r="0.8" opacity="0.40"/><circle cx="116.5" cy="62.9" r="0.8" opacity="0.29"/><circle cx="176.2" cy="164.3" r="0.9" opacity="0.21"/><circle cx="117.4" cy="95.7" r="0.7" opacity="0.31"/><circle cx="57.2" cy="204.7" r="1.1" opacity="0.19"/><circle cx="180.4" cy="99.3" r="0.9" opacity="0.33"/><circle cx="218.8" cy="253.2" r="1.1" opacity="0.21"/><circle cx="156.8" cy="98.6" r="0.6" opacity="0.32"/><circle cx="136.7" cy="248.5" r="0.8" opacity="0.40"/><circle cx="149.0" cy="31.9" r="1.1" opacity="0.24"/><circle cx="154.4" cy="24.1" r="0.6" opacity="0.43"/><circle cx="15.8" cy="46.0" r="0.7" opacity="0.18"/><circle cx="236.4" cy="284.7" r="1.1" opacity="0.27"/><circle cx="254.5" cy="146.8" r="0.7" opacity="0.36"/><circle cx="105.2" cy="80.1" r="0.8" opacity="0.27"/><circle cx="55.4" cy="176.7" r="1.2" opacity="0.32"/><circle cx="6.7" cy="196.9" r="0.6" opacity="0.29"/><circle cx="248.1" cy="195.0" r="1.2" opacity="0.38"/><circle cx="80.9" cy="44.5" r="0.9" opacity="0.35"/><circle cx="69.4" cy="97.4" r="1.1" opacity="0.25"/><circle cx="173.5" cy="157.8" r="1.3" opacity="0.16"/><circle cx="56.6" cy="223.5" r="1.1" opacity="0.18"/><circle cx="41.9" cy="63.4" r="1.0" opacity="0.42"/><circle cx="65.1" cy="61.2" r="1.1" opacity="0.28"/><circle cx="242.8" cy="285.7" r="1.3" opacity="0.36"/><circle cx="143.9" cy="21.2" r="1.2" opacity="0.27"/><circle cx="134.7" cy="182.3" r="1.3" opacity="0.32"/><circle cx="262.8" cy="275.9" r="0.7" opacity="0.26"/><circle cx="254.6" cy="220.4" r="1.3" opacity="0.21"/><circle cx="153.8" cy="267.1" r="1.0" opacity="0.35"/><circle cx="278.9" cy="52.9" r="0.6" opacity="0.41"/><circle cx="167.9" cy="60.5" r="1.2" opacity="0.24"/><circle cx="40.6" cy="87.9" r="0.6" opacity="0.27"/><circle cx="223.8" cy="132.0" r="1.3" opacity="0.16"/><circle cx="52.8" cy="44.6" r="1.0" opacity="0.21"/><circle cx="192.2" cy="151.5" r="1.0" opacity="0.40"/><circle cx="226.7" cy="264.1" r="0.7" opacity="0.26"/><circle cx="274.8" cy="115.9" r="0.8" opacity="0.29"/><circle cx="55.0" cy="243.2" r="1.0" opacity="0.18"/><circle cx="275.9" cy="150.8" r="0.8" opacity="0.33"/><circle cx="271.8" cy="101.8" r="0.6" opacity="0.21"/><circle cx="20.5" cy="153.1" r="0.8" opacity="0.41"/><circle cx="62.2" cy="8.3" r="0.9" opacity="0.19"/><circle cx="91.5" cy="67.6" r="0.7" opacity="0.34"/><circle cx="268.0" cy="108.4" r="1.0" opacity="0.25"/><circle cx="262.0" cy="159.9" r="0.6" opacity="0.37"/><circle cx="63.2" cy="17.2" r="0.6" opacity="0.40"/><circle cx="204.2" cy="105.0" r="1.0" opacity="0.36"/><circle cx="25.3" cy="203.0" r="1.1" opacity="0.43"/><circle cx="20.7" cy="165.4" r="1.0" opacity="0.40"/><circle cx="106.7" cy="190.8" r="1.2" opacity="0.25"/><circle cx="149.3" cy="256.0" r="0.6" opacity="0.44"/><circle cx="92.3" cy="133.0" r="0.8" opacity="0.39"/><circle cx="154.2" cy="214.9" r="0.7" opacity="0.41"/><circle cx="235.5" cy="195.8" r="0.8" opacity="0.23"/><circle cx="131.5" cy="22.4" r="1.3" opacity="0.27"/><circle cx="272.8" cy="55.6" r="1.1" opacity="0.39"/><circle cx="185.8" cy="123.3" r="0.6" opacity="0.28"/><circle cx="114.0" cy="270.5" r="1.3" opacity="0.44"/><circle cx="280.4" cy="51.6" r="0.6" opacity="0.24"/><circle cx="6.2" cy="37.5" r="1.0" opacity="0.21"/><circle cx="176.2" cy="111.3" r="0.8" opacity="0.44"/><circle cx="56.5" cy="252.8" r="1.0" opacity="0.35"/><circle cx="44.6" cy="214.1" r="1.2" opacity="0.21"/><circle cx="137.3" cy="188.2" r="0.9" opacity="0.38"/></g><g filter="url(#pb1)" fill="#60ff30"><circle cx="65" cy="88.2" r="2.6"/><circle cx="218.5" cy="26.5" r="2.2"/><circle cx="8.4" cy="183.2" r="2"/><circle cx="247" cy="26" r="1.3" opacity="0.8"/><circle cx="83" cy="36" r="1.6" opacity="0.7"/><circle cx="170" cy="59" r="2.2"/><circle cx="207" cy="95" r="2"/><circle cx="154" cy="56" r="1.8"/></g></g>
<filter id="fB2" filterUnits="userSpaceOnUse" x="0" y="0" width="290" height="290" color-interpolation-filters="sRGB">
<feGaussianBlur in="SourceGraphic" stdDeviation="1.8" result="m"/>
<feTurbulence type="fractalNoise" baseFrequency="0.07" numOctaves="2" seed="8" result="t"/>
<feColorMatrix in="t" type="matrix" values="1 0 0 0 0 1 0 0 0 0 1 0 0 0 0 0 0 0 0 1" result="n"/>
<feComposite in="m" in2="n" operator="arithmetic" k1="0.9" k2="0.56" k3="0" k4="0" result="p"/>
<feComponentTransfer in="p" result="q"><feFuncR type="linear" slope="1" intercept="0"/></feComponentTransfer>
<feColorMatrix in="q" type="matrix" values="0 0 0 0 0.02 0 0 0 0 0.02 0 0 0 0 0.93 1 0 0 0 0"/>
</filter>
<g id="LB2"><g filter="url(#fB2)"><rect x="-60" y="-60" width="410" height="410" fill="#000"/><path d="M88,84 C96,72 110,64 126,63 C142,61 160,61 172,65 C188,70 198,82 200,97 C202,110 200,122 197,131 C193,146 187,160 181,172 C178,180 173,184 168,183 C160,182 156,176 155,168 C154,158 153,150 151,143 C147,134 140,129 130,126 C116,121 102,113 92,105 C85,99 84,92 88,84 Z" fill="#fff" opacity="1"/></g></g>
<g id="LB2m"><g filter="url(#fB2)"><rect x="-60" y="-60" width="410" height="410" fill="#000"/><path d="M88,84 C96,72 110,64 126,63 C142,61 160,61 172,65 C188,70 198,82 200,97 C202,110 200,122 197,131 C193,146 187,160 181,172 C178,180 173,184 168,183 C160,182 156,176 155,168 C154,158 153,150 151,143 C147,134 140,129 130,126 C116,121 102,113 92,105 C85,99 84,92 88,84 Z" fill="#fff" opacity="1"/></g></g>
<filter id="fR2" filterUnits="userSpaceOnUse" x="0" y="0" width="290" height="290" color-interpolation-filters="sRGB">
<feGaussianBlur in="SourceGraphic" stdDeviation="3.0" result="m0"/><feTurbulence type="fractalNoise" baseFrequency="0.05" numOctaves="2" seed="157" result="d"/><feDisplacementMap in="m0" in2="d" scale="14" xChannelSelector="R" yChannelSelector="G" result="m"/>
<feTurbulence type="fractalNoise" baseFrequency="0.1" numOctaves="3" seed="57" result="t"/>
<feColorMatrix in="t" type="matrix" values="1 0 0 0 0 1 0 0 0 0 1 0 0 0 0 0 0 0 0 1" result="n"/>
<feComposite in="m" in2="n" operator="arithmetic" k1="4.2" k2="-1.0" k3="0" k4="0" result="p"/>
<feComponentTransfer in="p" result="q"><feFuncR type="linear" slope="1.15" intercept="-0.08"/></feComponentTransfer>
<feColorMatrix in="q" type="matrix" values="0 0 0 0 0.9 0 0 0 0 0.02 0 0 0 0 0.02 1 0 0 0 0" result="c"/><feGaussianBlur stdDeviation="0.8"/>
</filter>
<g id="LR2"><g filter="url(#fR2)"><rect x="-60" y="-60" width="410" height="410" fill="#000"/><path d="M70,88 C76,74 90,58 104,52 C108,50 112,50 116,54" fill="none" opacity="1" stroke="#fff" stroke-width="17" stroke-linecap="round" stroke-linejoin="round"/><path d="M134,58 C146,54 160,54 174,59 C184,62 194,66 202,70" fill="none" opacity="1" stroke="#fff" stroke-width="15" stroke-linecap="round" stroke-linejoin="round"/><path d="M116,54 C122,58 128,58 134,58" fill="none" opacity="0.6" stroke="#fff" stroke-width="9" stroke-linecap="round" stroke-linejoin="round"/><path d="M71,88 C70,98 74,110 80,118" fill="none" opacity="0.95" stroke="#fff" stroke-width="15" stroke-linecap="round" stroke-linejoin="round"/><path d="M174,66 C174,80 170,94 165,106" fill="none" opacity="0.75" stroke="#fff" stroke-width="6" stroke-linecap="round" stroke-linejoin="round"/><path d="M118,100 C118,110 120,116 122,124" fill="none" opacity="0.45" stroke="#fff" stroke-width="5" stroke-linecap="round" stroke-linejoin="round"/><ellipse cx="189" cy="111" rx="5.5" ry="4.5" fill="#fff" opacity="0.9"/><path d="M88,122 C96,130 100,138 104,146 C110,156 120,158 128,150 C134,142 128,132 118,130 C108,128 98,128 90,124" fill="none" opacity="0.95" stroke="#fff" stroke-width="15" stroke-linecap="round" stroke-linejoin="round"/><ellipse cx="108" cy="140" rx="22" ry="18" fill="#fff" opacity="0.55"/><path d="M130,150 C140,154 150,160 156,168" fill="none" opacity="0.9" stroke="#fff" stroke-width="13" stroke-linecap="round" stroke-linejoin="round"/><ellipse cx="185" cy="144" rx="10" ry="11" fill="#fff" opacity="1"/><path d="M170,150 C176,148 180,146 184,144" fill="none" opacity="0.7" stroke="#fff" stroke-width="8" stroke-linecap="round" stroke-linejoin="round"/><path d="M122,182 C134,176 150,172 166,174 C176,178 178,190 172,200" fill="none" opacity="1" stroke="#fff" stroke-width="16" stroke-linecap="round" stroke-linejoin="round"/><ellipse cx="150" cy="178" rx="24" ry="14" fill="#fff" opacity="0.5"/><path d="M140,196 C142,206 146,214 152,220 C160,226 168,222 172,212" fill="none" opacity="1" stroke="#fff" stroke-width="16" stroke-linecap="round" stroke-linejoin="round"/><ellipse cx="152" cy="218" rx="14" ry="12" fill="#fff" opacity="0.8"/><path d="M160,232 C164,240 168,246 166,254" fill="none" opacity="0.95" stroke="#fff" stroke-width="13" stroke-linecap="round" stroke-linejoin="round"/><ellipse cx="78" cy="164" rx="4" ry="4" fill="#fff" opacity="0.8"/><ellipse cx="94" cy="187" rx="4" ry="4" fill="#fff" opacity="1"/><path d="M48,216 C54,220 64,220 73,212" fill="none" opacity="0.85" stroke="#fff" stroke-width="7" stroke-linecap="round" stroke-linejoin="round"/><path d="M87,250 C90,262 90,276 88,288 M82,268 C80,276 82,282 84,288" fill="none" opacity="0.8" stroke="#fff" stroke-width="7" stroke-linecap="round" stroke-linejoin="round"/><path d="M112,236 C118,242 122,244 118,250 M156,258 C160,266 160,274 164,284 M176,224 C178,230 178,236 176,242 M132,262 C134,270 134,280 130,288 M100,284 C104,286 108,286 110,288" fill="none" opacity="0.7" stroke="#fff" stroke-width="6" stroke-linecap="round" stroke-linejoin="round"/><path d="M276,26 C282,28 286,28 290,28" fill="none" opacity="0.45" stroke="#fff" stroke-width="4" stroke-linecap="round" stroke-linejoin="round"/></g></g>
<g id="HR1"><g filter="url(#pb08)" fill="#f20d0d"><circle cx="113.45" cy="68.07" r="2.72"/><circle cx="135.29" cy="72.69" r="1.36" opacity="0.8"/><circle cx="118.49" cy="90.34" r="1.36" opacity="0.8"/><circle cx="175.21" cy="85.29" r="1.36" opacity="0.7"/><circle cx="189.08" cy="84.03" r="2.04"/><circle cx="185.71" cy="93.7" r="1.36"/><circle cx="213.03" cy="102.94" r="2.38"/><circle cx="212.18" cy="116.81" r="3.06"/><circle cx="207.98" cy="117.23" r="2.38"/><circle cx="192.02" cy="133.19" r="2.38"/><circle cx="173.11" cy="144.96" r="1.36" opacity="0.8"/><circle cx="175.21" cy="154.2" r="1.36" opacity="0.8"/><circle cx="101.68" cy="154.2" r="2.38"/><circle cx="179.41" cy="165.97" r="3.4"/><circle cx="181.93" cy="164.29" r="2.38"/><circle cx="179.83" cy="182.77" r="2.72"/><circle cx="126.05" cy="193.28" r="3.06"/><circle cx="127.73" cy="195.38" r="2.04"/><circle cx="136.55" cy="175.63" r="1.02" opacity="0.7"/><circle cx="184.87" cy="225.63" r="3.06"/><circle cx="198.74" cy="229.83" r="1.36" opacity="0.8"/><circle cx="154.62" cy="250" r="1.36"/><circle cx="163.87" cy="277.31" r="2.04"/><circle cx="228.15" cy="139.92" r="1.02" opacity="0.6"/><circle cx="229.41" cy="119.75" r="1" opacity="0.5"/></g></g>
<g id="HR2"><g filter="url(#pb08)" fill="#f20d0d"><circle cx="49.58" cy="145.38" r="3.4"/><circle cx="84.87" cy="85.29" r="2.72"/><circle cx="81.93" cy="94.96" r="2.72"/><circle cx="76.47" cy="106.3" r="3.4"/><circle cx="84.87" cy="106.3" r="2.72"/><circle cx="79.83" cy="130.67" r="2.72"/><circle cx="77.31" cy="131.93" r="2.04"/><circle cx="88.24" cy="141.18" r="2.04"/><circle cx="97.48" cy="146.22" r="4.08"/><circle cx="100.84" cy="144.12" r="3.4"/><circle cx="94.54" cy="144.54" r="2.72"/><circle cx="81.93" cy="152.52" r="4.08"/><circle cx="86.13" cy="155.46" r="3.4"/><circle cx="77.73" cy="151.68" r="2.72"/><circle cx="89.5" cy="151.26" r="2.72"/><circle cx="82.77" cy="165.13" r="2.04"/><circle cx="105.88" cy="162.18" r="2.38"/><circle cx="124.79" cy="153.36" r="2.38"/><circle cx="118.49" cy="176.47" r="2.38"/><circle cx="123.95" cy="185.29" r="1.7"/><circle cx="133.61" cy="192.44" r="3.06"/><circle cx="137.82" cy="170.17" r="2.04"/><circle cx="140.34" cy="169.33" r="1.36"/><circle cx="92.44" cy="185.29" r="1.36" opacity="0.7"/><circle cx="100.84" cy="178.99" r="1.02" opacity="0.7"/><circle cx="157.56" cy="84.45" r="3.06"/><circle cx="196.64" cy="74.79" r="4.42"/><circle cx="199.58" cy="76.47" r="3.4"/><circle cx="193.7" cy="73.95" r="2.72"/><circle cx="208.82" cy="103.36" r="2.38"/><circle cx="207.14" cy="102.1" r="1.7"/><circle cx="215.13" cy="113.45" r="2.38"/><circle cx="174.37" cy="161.76" r="3.06"/><circle cx="171.01" cy="163.03" r="2.04"/><circle cx="189.08" cy="149.16" r="1.7"/><circle cx="219.75" cy="162.18" r="4.08"/><circle cx="78.57" cy="256.72" r="3.06"/><circle cx="81.09" cy="255.88" r="2.38"/><circle cx="76.05" cy="257.56" r="2.04"/><circle cx="142.86" cy="154.62" r="1.02" opacity="0.7"/></g></g>
<filter id="fHB1" filterUnits="userSpaceOnUse" x="0" y="0" width="290" height="290" color-interpolation-filters="sRGB">
<feGaussianBlur in="SourceGraphic" stdDeviation="2.0" result="m0"/><feTurbulence type="fractalNoise" baseFrequency="0.05" numOctaves="2" seed="114" result="d"/><feDisplacementMap in="m0" in2="d" scale="8" xChannelSelector="R" yChannelSelector="G" result="m"/>
<feTurbulence type="fractalNoise" baseFrequency="0.04" numOctaves="2" seed="14" result="t"/>
<feColorMatrix in="t" type="matrix" values="1 0 0 0 0 1 0 0 0 0 1 0 0 0 0 0 0 0 0 1" result="n"/>
<feComposite in="m" in2="n" operator="arithmetic" k1="0.7" k2="0.6" k3="0" k4="0" result="p"/>
<feComponentTransfer in="p" result="q"><feFuncR type="linear" slope="1" intercept="0"/></feComponentTransfer>
<feColorMatrix in="q" type="matrix" values="0 0 0 0 0.05 0 0 0 0 0.05 0 0 0 0 0.83 1 0 0 0 0"/>
</filter>
<g id="HB1"><g filter="url(#fHB1)"><rect x="-60" y="-60" width="410" height="410" fill="#000"/><path d="M154.2,79.0 C160.5,79.7 170.0,82.1 175.2,86.1 C180.5,90.1 183.4,95.2 185.7,102.9 C188.0,110.6 189.1,121.8 189.1,132.4 C189.1,142.9 188.7,156.2 185.7,166.0 C182.7,175.8 178.4,184.2 171.0,191.2 C163.7,198.2 149.6,207.3 141.6,208.0 C133.5,208.7 127.9,201.0 122.7,195.4 C117.4,189.8 113.4,183.5 110.1,174.4 C106.8,165.3 103.9,151.3 102.9,140.8 C102.0,130.3 102.0,119.4 104.6,111.3 C107.2,103.3 113.0,97.3 118.5,92.4 C123.9,87.5 131.4,84.2 137.4,81.9 C143.3,79.7 147.9,78.3 154.2,79.0 Z" fill="#fff" opacity="1"/></g></g>
<filter id="fHB2" filterUnits="userSpaceOnUse" x="0" y="0" width="290" height="290" color-interpolation-filters="sRGB">
<feGaussianBlur in="SourceGraphic" stdDeviation="2.0" result="m0"/><feTurbulence type="fractalNoise" baseFrequency="0.05" numOctaves="2" seed="119" result="d"/><feDisplacementMap in="m0" in2="d" scale="8" xChannelSelector="R" yChannelSelector="G" result="m"/>
<feTurbulence type="fractalNoise" baseFrequency="0.04" numOctaves="2" seed="19" result="t"/>
<feColorMatrix in="t" type="matrix" values="1 0 0 0 0 1 0 0 0 0 1 0 0 0 0 0 0 0 0 1" result="n"/>
<feComposite in="m" in2="n" operator="arithmetic" k1="0.7" k2="0.6" k3="0" k4="0" result="p"/>
<feComponentTransfer in="p" result="q"><feFuncR type="linear" slope="1" intercept="0"/></feComponentTransfer>
<feColorMatrix in="q" type="matrix" values="0 0 0 0 0.05 0 0 0 0 0.05 0 0 0 0 0.83 1 0 0 0 0"/>
</filter>
<g id="HB2"><g filter="url(#fHB2)"><rect x="-60" y="-60" width="410" height="410" fill="#000"/><path d="M147.9,51.7 C154.6,52.7 163.7,54.5 171.0,58.0 C178.4,61.5 186.6,66.4 192.0,72.7 C197.5,79.0 201.7,87.7 203.8,95.8 C205.9,103.9 206.2,113.0 204.6,121.0 C203.0,129.1 199.0,137.5 194.1,144.1 C189.2,150.8 181.9,157.4 175.2,160.9 C168.6,164.4 161.2,165.8 154.2,165.1 C147.2,164.4 140.2,160.6 133.2,156.7 C126.2,152.9 118.5,148.0 112.2,142.0 C105.9,136.1 99.4,128.7 95.4,121.0 C91.3,113.3 87.8,103.9 87.8,95.8 C87.8,87.7 91.3,79.0 95.4,72.7 C99.4,66.4 106.2,61.5 112.2,58.0 C118.1,54.5 125.1,52.7 131.1,51.7 C137.0,50.6 141.2,50.6 147.9,51.7 Z" fill="#fff" opacity="1"/></g><g filter="url(#pb05)" fill="#ff3060"><circle cx="157.1" cy="84.5" r="2.2"/></g></g></defs>
<g transform="translate(89.2 1381.2)" clip-path="url(#imclip)" style="isolation:isolate"><use href="#LG1"/></g>
<g transform="translate(390.9 1381.2)" clip-path="url(#imclip)" style="isolation:isolate"><use href="#LB1"/></g>
<g transform="translate(692.5 1381.2)" clip-path="url(#imclip)" style="isolation:isolate"><use href="#LR1"/></g>
<g transform="translate(994.6 1381.2)" clip-path="url(#imclip)" style="isolation:isolate"><use href="#LB1m"/><use href="#LR1" style="mix-blend-mode:screen"/><use href="#LG1m" style="mix-blend-mode:screen"/></g>
<g transform="translate(89.2 1682.5)" clip-path="url(#imclip)" style="isolation:isolate"><use href="#LG2"/></g>
<g transform="translate(390.9 1682.5)" clip-path="url(#imclip)" style="isolation:isolate"><use href="#LB2"/></g>
<g transform="translate(692.5 1682.5)" clip-path="url(#imclip)" style="isolation:isolate"><use href="#LR2"/></g>
<g transform="translate(994.6 1682.5)" clip-path="url(#imclip)" style="isolation:isolate"><use href="#LB2m"/><use href="#LR2" style="mix-blend-mode:screen"/><use href="#LG2m" style="mix-blend-mode:screen"/></g>
<g transform="translate(90.3 2076.1)" clip-path="url(#imclip)" style="isolation:isolate"><use href="#HR1"/></g>
<g transform="translate(392.0 2076.1)" clip-path="url(#imclip)" style="isolation:isolate"><use href="#HB1"/><use href="#HR1"/></g>
<g transform="translate(90.3 2377.6)" clip-path="url(#imclip)" style="isolation:isolate"><use href="#HR2"/></g>
<g transform="translate(392.0 2377.6)" clip-path="url(#imclip)" style="isolation:isolate"><use href="#HB2"/><use href="#HR2"/></g>
<rect x="1196.6" y="1656.3" width="74.5" height="6.5" fill="#fff"/>
<rect x="1193.6" y="1957.3" width="75.2" height="5.8" fill="#fff"/>
<rect x="600.8" y="2348.6" width="74.4" height="6.8" fill="#fff"/>
<rect x="600.8" y="2652" width="74.4" height="6.4" fill="#fff"/>
<text transform="translate(225.6 1369.4) scale(0.9615 1)" font-size="33.28" font-weight="bold" text-anchor="middle" fill="#000" letter-spacing="1.2">LC3</text>
<text transform="translate(539 1368.5) scale(0.9615 1)" font-size="33.9" font-weight="bold" text-anchor="middle" fill="#000">DAPI</text>
<text transform="translate(842 1368.5) scale(0.9615 1)" font-size="34.53" font-weight="bold" text-anchor="middle" fill="#000">Mito Tracker</text>
<text transform="translate(1144.4 1369.5) scale(0.9615 1)" font-size="33.28" font-weight="bold" text-anchor="middle" fill="#000">Merge</text>
<text transform="translate(89.5 2063.5) scale(0.9615 1)" font-size="34.32" font-weight="bold" text-anchor="start" fill="#000">mKeima-Red-Mito-7</text>
<text transform="translate(530.7 2063.5) scale(0.9615 1)" font-size="34.32" font-weight="bold" text-anchor="middle" fill="#000">Merge</text>
<text transform="translate(70.4 1524) rotate(-90) scale(0.9615 1)" font-size="34.63" font-weight="bold" text-anchor="middle" fill="#000">empty vector+ALB</text>
<text transform="translate(70.2 1839.3) rotate(-90) scale(0.9615 1)" font-size="34.63" font-weight="bold" text-anchor="middle" fill="#000">Parkin OE+ALB</text>
<text transform="translate(70.6 2216.6) rotate(-90) scale(0.9615 1)" font-size="34.63" font-weight="bold" text-anchor="middle" fill="#000">empty vector+ALB</text>
<text transform="translate(70.2 2531) rotate(-90) scale(0.9615 1)" font-size="34.63" font-weight="bold" text-anchor="middle" fill="#000">Parkin OE+ALB</text>
</svg>
</body>
</html>
